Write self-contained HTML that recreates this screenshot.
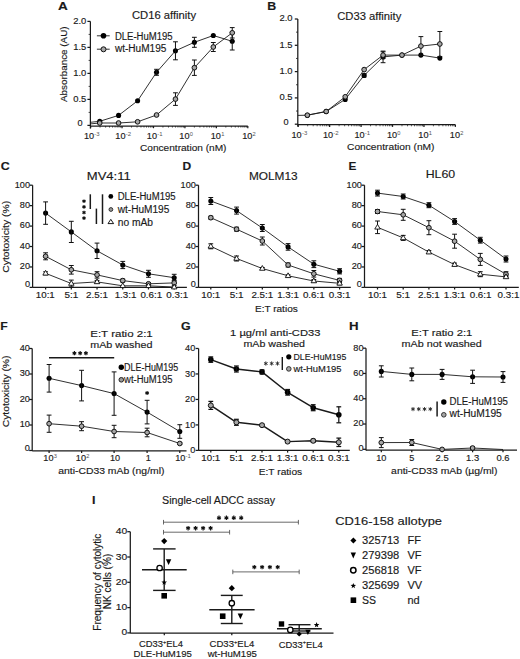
<!DOCTYPE html>
<html><head><meta charset="utf-8"><style>
html,body{margin:0;padding:0;background:#fff;}
svg{display:block;font-family:"Liberation Sans",sans-serif;}
text{stroke:#1a1a1a;stroke-width:0.15px;paint-order:stroke;}
</style></head><body>
<svg width="520" height="659" viewBox="0 0 520 659">
<rect width="520" height="659" fill="#fff"/>
<text x="57.91" y="9.60" font-size="11.80" font-weight="bold" text-anchor="start" textLength="9.78" lengthAdjust="spacingAndGlyphs" fill="#1a1a1a">A</text>
<text x="132.00" y="18.70" font-size="10.00" text-anchor="start" textLength="64.10" lengthAdjust="spacingAndGlyphs" fill="#1a1a1a">CD16 affinity</text>
<line x1="90.40" y1="21.40" x2="90.40" y2="128.50" stroke="#1a1a1a" stroke-width="1.25" stroke-linecap="butt"/>
<line x1="87.40" y1="125.40" x2="90.40" y2="125.40" stroke="#1a1a1a" stroke-width="1.25" stroke-linecap="butt"/>
<text x="82.70" y="126.18" font-size="8.50" text-anchor="end" textLength="5.09" lengthAdjust="spacingAndGlyphs" fill="#1a1a1a">0</text>
<line x1="87.40" y1="99.40" x2="90.40" y2="99.40" stroke="#1a1a1a" stroke-width="1.25" stroke-linecap="butt"/>
<text x="86.30" y="101.78" font-size="8.50" text-anchor="end" textLength="13.09" lengthAdjust="spacingAndGlyphs" fill="#1a1a1a">0.5</text>
<line x1="87.40" y1="73.40" x2="90.40" y2="73.40" stroke="#1a1a1a" stroke-width="1.25" stroke-linecap="butt"/>
<text x="86.30" y="75.78" font-size="8.50" text-anchor="end" textLength="13.09" lengthAdjust="spacingAndGlyphs" fill="#1a1a1a">1.0</text>
<line x1="87.40" y1="47.40" x2="90.40" y2="47.40" stroke="#1a1a1a" stroke-width="1.25" stroke-linecap="butt"/>
<text x="86.30" y="49.78" font-size="8.50" text-anchor="end" textLength="13.09" lengthAdjust="spacingAndGlyphs" fill="#1a1a1a">1.5</text>
<line x1="87.40" y1="21.40" x2="90.40" y2="21.40" stroke="#1a1a1a" stroke-width="1.25" stroke-linecap="butt"/>
<text x="86.30" y="23.78" font-size="8.50" text-anchor="end" textLength="13.09" lengthAdjust="spacingAndGlyphs" fill="#1a1a1a">2.0</text>
<line x1="88.60" y1="112.40" x2="90.40" y2="112.40" stroke="#1a1a1a" stroke-width="0.8" stroke-linecap="butt"/>
<line x1="88.60" y1="86.40" x2="90.40" y2="86.40" stroke="#1a1a1a" stroke-width="0.8" stroke-linecap="butt"/>
<line x1="88.60" y1="60.40" x2="90.40" y2="60.40" stroke="#1a1a1a" stroke-width="0.8" stroke-linecap="butt"/>
<line x1="88.60" y1="34.40" x2="90.40" y2="34.40" stroke="#1a1a1a" stroke-width="0.8" stroke-linecap="butt"/>
<line x1="90.40" y1="126.00" x2="247.80" y2="126.00" stroke="#1a1a1a" stroke-width="1.25" stroke-linecap="butt"/>
<line x1="90.60" y1="126.00" x2="90.60" y2="128.20" stroke="#1a1a1a" stroke-width="1.25" stroke-linecap="butt"/>
<line x1="122.04" y1="126.00" x2="122.04" y2="128.20" stroke="#1a1a1a" stroke-width="1.25" stroke-linecap="butt"/>
<line x1="153.48" y1="126.00" x2="153.48" y2="128.20" stroke="#1a1a1a" stroke-width="1.25" stroke-linecap="butt"/>
<line x1="184.92" y1="126.00" x2="184.92" y2="128.20" stroke="#1a1a1a" stroke-width="1.25" stroke-linecap="butt"/>
<line x1="216.36" y1="126.00" x2="216.36" y2="128.20" stroke="#1a1a1a" stroke-width="1.25" stroke-linecap="butt"/>
<line x1="247.80" y1="126.00" x2="247.80" y2="128.20" stroke="#1a1a1a" stroke-width="1.25" stroke-linecap="butt"/>
<line x1="100.06" y1="126.00" x2="100.06" y2="127.60" stroke="#1a1a1a" stroke-width="0.7" stroke-linecap="butt"/>
<line x1="105.60" y1="126.00" x2="105.60" y2="127.60" stroke="#1a1a1a" stroke-width="0.7" stroke-linecap="butt"/>
<line x1="109.53" y1="126.00" x2="109.53" y2="127.60" stroke="#1a1a1a" stroke-width="0.7" stroke-linecap="butt"/>
<line x1="112.58" y1="126.00" x2="112.58" y2="127.60" stroke="#1a1a1a" stroke-width="0.7" stroke-linecap="butt"/>
<line x1="115.07" y1="126.00" x2="115.07" y2="127.60" stroke="#1a1a1a" stroke-width="0.7" stroke-linecap="butt"/>
<line x1="117.17" y1="126.00" x2="117.17" y2="127.60" stroke="#1a1a1a" stroke-width="0.7" stroke-linecap="butt"/>
<line x1="118.99" y1="126.00" x2="118.99" y2="127.60" stroke="#1a1a1a" stroke-width="0.7" stroke-linecap="butt"/>
<line x1="120.60" y1="126.00" x2="120.60" y2="127.60" stroke="#1a1a1a" stroke-width="0.7" stroke-linecap="butt"/>
<line x1="131.50" y1="126.00" x2="131.50" y2="127.60" stroke="#1a1a1a" stroke-width="0.7" stroke-linecap="butt"/>
<line x1="137.04" y1="126.00" x2="137.04" y2="127.60" stroke="#1a1a1a" stroke-width="0.7" stroke-linecap="butt"/>
<line x1="140.97" y1="126.00" x2="140.97" y2="127.60" stroke="#1a1a1a" stroke-width="0.7" stroke-linecap="butt"/>
<line x1="144.02" y1="126.00" x2="144.02" y2="127.60" stroke="#1a1a1a" stroke-width="0.7" stroke-linecap="butt"/>
<line x1="146.51" y1="126.00" x2="146.51" y2="127.60" stroke="#1a1a1a" stroke-width="0.7" stroke-linecap="butt"/>
<line x1="148.61" y1="126.00" x2="148.61" y2="127.60" stroke="#1a1a1a" stroke-width="0.7" stroke-linecap="butt"/>
<line x1="150.43" y1="126.00" x2="150.43" y2="127.60" stroke="#1a1a1a" stroke-width="0.7" stroke-linecap="butt"/>
<line x1="152.04" y1="126.00" x2="152.04" y2="127.60" stroke="#1a1a1a" stroke-width="0.7" stroke-linecap="butt"/>
<line x1="162.94" y1="126.00" x2="162.94" y2="127.60" stroke="#1a1a1a" stroke-width="0.7" stroke-linecap="butt"/>
<line x1="168.48" y1="126.00" x2="168.48" y2="127.60" stroke="#1a1a1a" stroke-width="0.7" stroke-linecap="butt"/>
<line x1="172.41" y1="126.00" x2="172.41" y2="127.60" stroke="#1a1a1a" stroke-width="0.7" stroke-linecap="butt"/>
<line x1="175.46" y1="126.00" x2="175.46" y2="127.60" stroke="#1a1a1a" stroke-width="0.7" stroke-linecap="butt"/>
<line x1="177.95" y1="126.00" x2="177.95" y2="127.60" stroke="#1a1a1a" stroke-width="0.7" stroke-linecap="butt"/>
<line x1="180.05" y1="126.00" x2="180.05" y2="127.60" stroke="#1a1a1a" stroke-width="0.7" stroke-linecap="butt"/>
<line x1="181.87" y1="126.00" x2="181.87" y2="127.60" stroke="#1a1a1a" stroke-width="0.7" stroke-linecap="butt"/>
<line x1="183.48" y1="126.00" x2="183.48" y2="127.60" stroke="#1a1a1a" stroke-width="0.7" stroke-linecap="butt"/>
<line x1="194.38" y1="126.00" x2="194.38" y2="127.60" stroke="#1a1a1a" stroke-width="0.7" stroke-linecap="butt"/>
<line x1="199.92" y1="126.00" x2="199.92" y2="127.60" stroke="#1a1a1a" stroke-width="0.7" stroke-linecap="butt"/>
<line x1="203.85" y1="126.00" x2="203.85" y2="127.60" stroke="#1a1a1a" stroke-width="0.7" stroke-linecap="butt"/>
<line x1="206.90" y1="126.00" x2="206.90" y2="127.60" stroke="#1a1a1a" stroke-width="0.7" stroke-linecap="butt"/>
<line x1="209.39" y1="126.00" x2="209.39" y2="127.60" stroke="#1a1a1a" stroke-width="0.7" stroke-linecap="butt"/>
<line x1="211.49" y1="126.00" x2="211.49" y2="127.60" stroke="#1a1a1a" stroke-width="0.7" stroke-linecap="butt"/>
<line x1="213.31" y1="126.00" x2="213.31" y2="127.60" stroke="#1a1a1a" stroke-width="0.7" stroke-linecap="butt"/>
<line x1="214.92" y1="126.00" x2="214.92" y2="127.60" stroke="#1a1a1a" stroke-width="0.7" stroke-linecap="butt"/>
<line x1="225.82" y1="126.00" x2="225.82" y2="127.60" stroke="#1a1a1a" stroke-width="0.7" stroke-linecap="butt"/>
<line x1="231.36" y1="126.00" x2="231.36" y2="127.60" stroke="#1a1a1a" stroke-width="0.7" stroke-linecap="butt"/>
<line x1="235.29" y1="126.00" x2="235.29" y2="127.60" stroke="#1a1a1a" stroke-width="0.7" stroke-linecap="butt"/>
<line x1="238.34" y1="126.00" x2="238.34" y2="127.60" stroke="#1a1a1a" stroke-width="0.7" stroke-linecap="butt"/>
<line x1="240.83" y1="126.00" x2="240.83" y2="127.60" stroke="#1a1a1a" stroke-width="0.7" stroke-linecap="butt"/>
<line x1="242.93" y1="126.00" x2="242.93" y2="127.60" stroke="#1a1a1a" stroke-width="0.7" stroke-linecap="butt"/>
<line x1="244.75" y1="126.00" x2="244.75" y2="127.60" stroke="#1a1a1a" stroke-width="0.7" stroke-linecap="butt"/>
<line x1="246.36" y1="126.00" x2="246.36" y2="127.60" stroke="#1a1a1a" stroke-width="0.7" stroke-linecap="butt"/>
<text x="83.94" y="139.30" font-size="8.50" text-anchor="start" textLength="10.18" lengthAdjust="spacingAndGlyphs" fill="#1a1a1a">10</text>
<text x="94.32" y="136.40" font-size="5.00" text-anchor="start" textLength="5.33" lengthAdjust="spacingAndGlyphs" fill="#555" style="stroke:none">-3</text>
<text x="115.38" y="139.30" font-size="8.50" text-anchor="start" textLength="10.18" lengthAdjust="spacingAndGlyphs" fill="#1a1a1a">10</text>
<text x="125.76" y="136.40" font-size="5.00" text-anchor="start" textLength="5.33" lengthAdjust="spacingAndGlyphs" fill="#555" style="stroke:none">-2</text>
<text x="146.82" y="139.30" font-size="8.50" text-anchor="start" textLength="10.18" lengthAdjust="spacingAndGlyphs" fill="#1a1a1a">10</text>
<text x="157.20" y="136.40" font-size="5.00" text-anchor="start" textLength="5.33" lengthAdjust="spacingAndGlyphs" fill="#555" style="stroke:none">-1</text>
<text x="179.34" y="139.30" font-size="8.50" text-anchor="start" textLength="10.18" lengthAdjust="spacingAndGlyphs" fill="#1a1a1a">10</text>
<text x="189.72" y="136.40" font-size="5.00" text-anchor="start" textLength="3.18" lengthAdjust="spacingAndGlyphs" fill="#555" style="stroke:none">0</text>
<text x="210.78" y="139.30" font-size="8.50" text-anchor="start" textLength="10.18" lengthAdjust="spacingAndGlyphs" fill="#1a1a1a">10</text>
<text x="221.16" y="136.40" font-size="5.00" text-anchor="start" textLength="3.18" lengthAdjust="spacingAndGlyphs" fill="#555" style="stroke:none">1</text>
<text x="242.22" y="139.30" font-size="8.50" text-anchor="start" textLength="10.18" lengthAdjust="spacingAndGlyphs" fill="#1a1a1a">10</text>
<text x="252.60" y="136.40" font-size="5.00" text-anchor="start" textLength="3.18" lengthAdjust="spacingAndGlyphs" fill="#555" style="stroke:none">2</text>
<text x="140.00" y="150.60" font-size="9.90" text-anchor="start" textLength="86.49" lengthAdjust="spacingAndGlyphs" fill="#1a1a1a">Concentration (nM)</text>
<text transform="translate(67.10,64.20) rotate(-90)" x="0" y="0" font-size="9.80" text-anchor="middle" textLength="75.50" lengthAdjust="spacingAndGlyphs" fill="#1a1a1a">Absorbance (AU)</text>
<polyline points="90.40,122.30 99.72,121.30" fill="none" stroke="#1a1a1a" stroke-width="0.9" stroke-linejoin="round"/>
<polyline points="90.40,123.90 99.72,123.00" fill="none" stroke="#1a1a1a" stroke-width="0.9" stroke-linejoin="round"/>
<polyline points="99.72,121.30 118.58,115.40 137.60,100.80 156.53,72.30 175.46,50.80 194.38,42.30 213.31,35.50 232.24,41.30" fill="none" stroke="#1a1a1a" stroke-width="0.9" stroke-linejoin="round"/>
<circle cx="99.72" cy="121.30" r="2.55" fill="#000"/>
<circle cx="118.58" cy="115.40" r="2.55" fill="#000"/>
<circle cx="137.60" cy="100.80" r="2.55" fill="#000"/>
<circle cx="156.53" cy="72.30" r="2.55" fill="#000"/>
<circle cx="175.46" cy="50.80" r="2.55" fill="#000"/>
<circle cx="194.38" cy="42.30" r="2.55" fill="#000"/>
<circle cx="213.31" cy="35.50" r="2.55" fill="#000"/>
<circle cx="232.24" cy="41.30" r="2.55" fill="#000"/>
<line x1="156.53" y1="69.30" x2="156.53" y2="75.30" stroke="#111" stroke-width="1.0" stroke-linecap="butt"/>
<line x1="154.13" y1="69.30" x2="158.93" y2="69.30" stroke="#111" stroke-width="1.0" stroke-linecap="butt"/>
<line x1="154.13" y1="75.30" x2="158.93" y2="75.30" stroke="#111" stroke-width="1.0" stroke-linecap="butt"/>
<line x1="175.46" y1="41.80" x2="175.46" y2="59.80" stroke="#111" stroke-width="1.0" stroke-linecap="butt"/>
<line x1="173.06" y1="41.80" x2="177.86" y2="41.80" stroke="#111" stroke-width="1.0" stroke-linecap="butt"/>
<line x1="173.06" y1="59.80" x2="177.86" y2="59.80" stroke="#111" stroke-width="1.0" stroke-linecap="butt"/>
<line x1="194.38" y1="37.30" x2="194.38" y2="47.30" stroke="#111" stroke-width="1.0" stroke-linecap="butt"/>
<line x1="191.98" y1="37.30" x2="196.78" y2="37.30" stroke="#111" stroke-width="1.0" stroke-linecap="butt"/>
<line x1="191.98" y1="47.30" x2="196.78" y2="47.30" stroke="#111" stroke-width="1.0" stroke-linecap="butt"/>
<line x1="232.24" y1="32.60" x2="232.24" y2="50.00" stroke="#111" stroke-width="1.0" stroke-linecap="butt"/>
<line x1="229.84" y1="32.60" x2="234.64" y2="32.60" stroke="#111" stroke-width="1.0" stroke-linecap="butt"/>
<line x1="229.84" y1="50.00" x2="234.64" y2="50.00" stroke="#111" stroke-width="1.0" stroke-linecap="butt"/>
<polyline points="99.72,123.00 118.58,123.00 137.60,121.80 156.53,115.00 175.46,99.10 194.38,67.70 213.31,47.00 232.24,32.80" fill="none" stroke="#1a1a1a" stroke-width="0.9" stroke-linejoin="round"/>
<line x1="175.46" y1="92.80" x2="175.46" y2="105.40" stroke="#111" stroke-width="1.0" stroke-linecap="butt"/>
<line x1="173.06" y1="92.80" x2="177.86" y2="92.80" stroke="#111" stroke-width="1.0" stroke-linecap="butt"/>
<line x1="173.06" y1="105.40" x2="177.86" y2="105.40" stroke="#111" stroke-width="1.0" stroke-linecap="butt"/>
<line x1="194.38" y1="60.00" x2="194.38" y2="75.40" stroke="#111" stroke-width="1.0" stroke-linecap="butt"/>
<line x1="191.98" y1="60.00" x2="196.78" y2="60.00" stroke="#111" stroke-width="1.0" stroke-linecap="butt"/>
<line x1="191.98" y1="75.40" x2="196.78" y2="75.40" stroke="#111" stroke-width="1.0" stroke-linecap="butt"/>
<line x1="213.31" y1="42.50" x2="213.31" y2="51.50" stroke="#111" stroke-width="1.0" stroke-linecap="butt"/>
<line x1="210.91" y1="42.50" x2="215.71" y2="42.50" stroke="#111" stroke-width="1.0" stroke-linecap="butt"/>
<line x1="210.91" y1="51.50" x2="215.71" y2="51.50" stroke="#111" stroke-width="1.0" stroke-linecap="butt"/>
<line x1="232.24" y1="27.60" x2="232.24" y2="38.00" stroke="#111" stroke-width="1.0" stroke-linecap="butt"/>
<line x1="229.84" y1="27.60" x2="234.64" y2="27.60" stroke="#111" stroke-width="1.0" stroke-linecap="butt"/>
<line x1="229.84" y1="38.00" x2="234.64" y2="38.00" stroke="#111" stroke-width="1.0" stroke-linecap="butt"/>
<circle cx="99.72" cy="123.00" r="2.35" fill="#a6a6a6" stroke="#111" stroke-width="1.0"/>
<circle cx="118.58" cy="123.00" r="2.35" fill="#a6a6a6" stroke="#111" stroke-width="1.0"/>
<circle cx="137.60" cy="121.80" r="2.35" fill="#a6a6a6" stroke="#111" stroke-width="1.0"/>
<circle cx="156.53" cy="115.00" r="2.35" fill="#a6a6a6" stroke="#111" stroke-width="1.0"/>
<circle cx="175.46" cy="99.10" r="2.35" fill="#a6a6a6" stroke="#111" stroke-width="1.0"/>
<circle cx="194.38" cy="67.70" r="2.35" fill="#a6a6a6" stroke="#111" stroke-width="1.0"/>
<circle cx="213.31" cy="47.00" r="2.35" fill="#a6a6a6" stroke="#111" stroke-width="1.0"/>
<circle cx="232.24" cy="32.80" r="2.35" fill="#a6a6a6" stroke="#111" stroke-width="1.0"/>
<line x1="96.90" y1="35.80" x2="109.70" y2="35.80" stroke="#1a1a1a" stroke-width="0.9" stroke-linecap="butt"/>
<circle cx="103.50" cy="35.80" r="2.8" fill="#000"/>
<line x1="96.90" y1="49.20" x2="109.70" y2="49.20" stroke="#1a1a1a" stroke-width="0.9" stroke-linecap="butt"/>
<circle cx="103.50" cy="49.30" r="2.5" fill="#a6a6a6" stroke="#111" stroke-width="1.0"/>
<text x="114.90" y="39.70" font-size="10.00" text-anchor="start" textLength="57.80" lengthAdjust="spacingAndGlyphs" fill="#1a1a1a">DLE-HuM195</text>
<text x="114.90" y="52.20" font-size="10.00" text-anchor="start" textLength="51.50" lengthAdjust="spacingAndGlyphs" fill="#1a1a1a">wt-HuM195</text>
<text x="267.21" y="9.50" font-size="11.80" font-weight="bold" text-anchor="start" textLength="8.98" lengthAdjust="spacingAndGlyphs" fill="#1a1a1a">B</text>
<text x="337.20" y="20.20" font-size="10.00" text-anchor="start" textLength="64.10" lengthAdjust="spacingAndGlyphs" fill="#1a1a1a">CD33 affinity</text>
<line x1="297.80" y1="19.00" x2="297.80" y2="126.60" stroke="#1a1a1a" stroke-width="1.25" stroke-linecap="butt"/>
<line x1="294.80" y1="124.20" x2="297.80" y2="124.20" stroke="#1a1a1a" stroke-width="1.25" stroke-linecap="butt"/>
<text x="288.50" y="124.78" font-size="8.50" text-anchor="end" textLength="5.09" lengthAdjust="spacingAndGlyphs" fill="#1a1a1a">0</text>
<line x1="294.80" y1="97.90" x2="297.80" y2="97.90" stroke="#1a1a1a" stroke-width="1.25" stroke-linecap="butt"/>
<text x="292.50" y="100.28" font-size="8.50" text-anchor="end" textLength="13.09" lengthAdjust="spacingAndGlyphs" fill="#1a1a1a">0.5</text>
<line x1="294.80" y1="71.60" x2="297.80" y2="71.60" stroke="#1a1a1a" stroke-width="1.25" stroke-linecap="butt"/>
<text x="292.50" y="73.98" font-size="8.50" text-anchor="end" textLength="13.09" lengthAdjust="spacingAndGlyphs" fill="#1a1a1a">1.0</text>
<line x1="294.80" y1="45.30" x2="297.80" y2="45.30" stroke="#1a1a1a" stroke-width="1.25" stroke-linecap="butt"/>
<text x="292.50" y="47.68" font-size="8.50" text-anchor="end" textLength="13.09" lengthAdjust="spacingAndGlyphs" fill="#1a1a1a">1.5</text>
<line x1="294.80" y1="19.00" x2="297.80" y2="19.00" stroke="#1a1a1a" stroke-width="1.25" stroke-linecap="butt"/>
<text x="292.50" y="21.38" font-size="8.50" text-anchor="end" textLength="13.09" lengthAdjust="spacingAndGlyphs" fill="#1a1a1a">2.0</text>
<line x1="296.00" y1="111.05" x2="297.80" y2="111.05" stroke="#1a1a1a" stroke-width="0.8" stroke-linecap="butt"/>
<line x1="296.00" y1="84.75" x2="297.80" y2="84.75" stroke="#1a1a1a" stroke-width="0.8" stroke-linecap="butt"/>
<line x1="296.00" y1="58.45" x2="297.80" y2="58.45" stroke="#1a1a1a" stroke-width="0.8" stroke-linecap="butt"/>
<line x1="296.00" y1="32.15" x2="297.80" y2="32.15" stroke="#1a1a1a" stroke-width="0.8" stroke-linecap="butt"/>
<line x1="297.80" y1="124.70" x2="455.40" y2="124.70" stroke="#1a1a1a" stroke-width="1.25" stroke-linecap="butt"/>
<line x1="298.20" y1="124.70" x2="298.20" y2="126.90" stroke="#1a1a1a" stroke-width="1.25" stroke-linecap="butt"/>
<line x1="329.64" y1="124.70" x2="329.64" y2="126.90" stroke="#1a1a1a" stroke-width="1.25" stroke-linecap="butt"/>
<line x1="361.08" y1="124.70" x2="361.08" y2="126.90" stroke="#1a1a1a" stroke-width="1.25" stroke-linecap="butt"/>
<line x1="392.52" y1="124.70" x2="392.52" y2="126.90" stroke="#1a1a1a" stroke-width="1.25" stroke-linecap="butt"/>
<line x1="423.96" y1="124.70" x2="423.96" y2="126.90" stroke="#1a1a1a" stroke-width="1.25" stroke-linecap="butt"/>
<line x1="455.40" y1="124.70" x2="455.40" y2="126.90" stroke="#1a1a1a" stroke-width="1.25" stroke-linecap="butt"/>
<line x1="307.66" y1="124.70" x2="307.66" y2="126.30" stroke="#1a1a1a" stroke-width="0.7" stroke-linecap="butt"/>
<line x1="313.20" y1="124.70" x2="313.20" y2="126.30" stroke="#1a1a1a" stroke-width="0.7" stroke-linecap="butt"/>
<line x1="317.13" y1="124.70" x2="317.13" y2="126.30" stroke="#1a1a1a" stroke-width="0.7" stroke-linecap="butt"/>
<line x1="320.18" y1="124.70" x2="320.18" y2="126.30" stroke="#1a1a1a" stroke-width="0.7" stroke-linecap="butt"/>
<line x1="322.67" y1="124.70" x2="322.67" y2="126.30" stroke="#1a1a1a" stroke-width="0.7" stroke-linecap="butt"/>
<line x1="324.77" y1="124.70" x2="324.77" y2="126.30" stroke="#1a1a1a" stroke-width="0.7" stroke-linecap="butt"/>
<line x1="326.59" y1="124.70" x2="326.59" y2="126.30" stroke="#1a1a1a" stroke-width="0.7" stroke-linecap="butt"/>
<line x1="328.20" y1="124.70" x2="328.20" y2="126.30" stroke="#1a1a1a" stroke-width="0.7" stroke-linecap="butt"/>
<line x1="339.10" y1="124.70" x2="339.10" y2="126.30" stroke="#1a1a1a" stroke-width="0.7" stroke-linecap="butt"/>
<line x1="344.64" y1="124.70" x2="344.64" y2="126.30" stroke="#1a1a1a" stroke-width="0.7" stroke-linecap="butt"/>
<line x1="348.57" y1="124.70" x2="348.57" y2="126.30" stroke="#1a1a1a" stroke-width="0.7" stroke-linecap="butt"/>
<line x1="351.62" y1="124.70" x2="351.62" y2="126.30" stroke="#1a1a1a" stroke-width="0.7" stroke-linecap="butt"/>
<line x1="354.11" y1="124.70" x2="354.11" y2="126.30" stroke="#1a1a1a" stroke-width="0.7" stroke-linecap="butt"/>
<line x1="356.21" y1="124.70" x2="356.21" y2="126.30" stroke="#1a1a1a" stroke-width="0.7" stroke-linecap="butt"/>
<line x1="358.03" y1="124.70" x2="358.03" y2="126.30" stroke="#1a1a1a" stroke-width="0.7" stroke-linecap="butt"/>
<line x1="359.64" y1="124.70" x2="359.64" y2="126.30" stroke="#1a1a1a" stroke-width="0.7" stroke-linecap="butt"/>
<line x1="370.54" y1="124.70" x2="370.54" y2="126.30" stroke="#1a1a1a" stroke-width="0.7" stroke-linecap="butt"/>
<line x1="376.08" y1="124.70" x2="376.08" y2="126.30" stroke="#1a1a1a" stroke-width="0.7" stroke-linecap="butt"/>
<line x1="380.01" y1="124.70" x2="380.01" y2="126.30" stroke="#1a1a1a" stroke-width="0.7" stroke-linecap="butt"/>
<line x1="383.06" y1="124.70" x2="383.06" y2="126.30" stroke="#1a1a1a" stroke-width="0.7" stroke-linecap="butt"/>
<line x1="385.55" y1="124.70" x2="385.55" y2="126.30" stroke="#1a1a1a" stroke-width="0.7" stroke-linecap="butt"/>
<line x1="387.65" y1="124.70" x2="387.65" y2="126.30" stroke="#1a1a1a" stroke-width="0.7" stroke-linecap="butt"/>
<line x1="389.47" y1="124.70" x2="389.47" y2="126.30" stroke="#1a1a1a" stroke-width="0.7" stroke-linecap="butt"/>
<line x1="391.08" y1="124.70" x2="391.08" y2="126.30" stroke="#1a1a1a" stroke-width="0.7" stroke-linecap="butt"/>
<line x1="401.98" y1="124.70" x2="401.98" y2="126.30" stroke="#1a1a1a" stroke-width="0.7" stroke-linecap="butt"/>
<line x1="407.52" y1="124.70" x2="407.52" y2="126.30" stroke="#1a1a1a" stroke-width="0.7" stroke-linecap="butt"/>
<line x1="411.45" y1="124.70" x2="411.45" y2="126.30" stroke="#1a1a1a" stroke-width="0.7" stroke-linecap="butt"/>
<line x1="414.50" y1="124.70" x2="414.50" y2="126.30" stroke="#1a1a1a" stroke-width="0.7" stroke-linecap="butt"/>
<line x1="416.99" y1="124.70" x2="416.99" y2="126.30" stroke="#1a1a1a" stroke-width="0.7" stroke-linecap="butt"/>
<line x1="419.09" y1="124.70" x2="419.09" y2="126.30" stroke="#1a1a1a" stroke-width="0.7" stroke-linecap="butt"/>
<line x1="420.91" y1="124.70" x2="420.91" y2="126.30" stroke="#1a1a1a" stroke-width="0.7" stroke-linecap="butt"/>
<line x1="422.52" y1="124.70" x2="422.52" y2="126.30" stroke="#1a1a1a" stroke-width="0.7" stroke-linecap="butt"/>
<line x1="433.42" y1="124.70" x2="433.42" y2="126.30" stroke="#1a1a1a" stroke-width="0.7" stroke-linecap="butt"/>
<line x1="438.96" y1="124.70" x2="438.96" y2="126.30" stroke="#1a1a1a" stroke-width="0.7" stroke-linecap="butt"/>
<line x1="442.89" y1="124.70" x2="442.89" y2="126.30" stroke="#1a1a1a" stroke-width="0.7" stroke-linecap="butt"/>
<line x1="445.94" y1="124.70" x2="445.94" y2="126.30" stroke="#1a1a1a" stroke-width="0.7" stroke-linecap="butt"/>
<line x1="448.43" y1="124.70" x2="448.43" y2="126.30" stroke="#1a1a1a" stroke-width="0.7" stroke-linecap="butt"/>
<line x1="450.53" y1="124.70" x2="450.53" y2="126.30" stroke="#1a1a1a" stroke-width="0.7" stroke-linecap="butt"/>
<line x1="452.35" y1="124.70" x2="452.35" y2="126.30" stroke="#1a1a1a" stroke-width="0.7" stroke-linecap="butt"/>
<line x1="453.96" y1="124.70" x2="453.96" y2="126.30" stroke="#1a1a1a" stroke-width="0.7" stroke-linecap="butt"/>
<text x="291.54" y="138.10" font-size="8.50" text-anchor="start" textLength="10.18" lengthAdjust="spacingAndGlyphs" fill="#1a1a1a">10</text>
<text x="301.92" y="135.20" font-size="5.00" text-anchor="start" textLength="5.33" lengthAdjust="spacingAndGlyphs" fill="#555" style="stroke:none">-3</text>
<text x="322.98" y="138.10" font-size="8.50" text-anchor="start" textLength="10.18" lengthAdjust="spacingAndGlyphs" fill="#1a1a1a">10</text>
<text x="333.36" y="135.20" font-size="5.00" text-anchor="start" textLength="5.33" lengthAdjust="spacingAndGlyphs" fill="#555" style="stroke:none">-2</text>
<text x="354.42" y="138.10" font-size="8.50" text-anchor="start" textLength="10.18" lengthAdjust="spacingAndGlyphs" fill="#1a1a1a">10</text>
<text x="364.80" y="135.20" font-size="5.00" text-anchor="start" textLength="5.33" lengthAdjust="spacingAndGlyphs" fill="#555" style="stroke:none">-1</text>
<text x="386.94" y="138.10" font-size="8.50" text-anchor="start" textLength="10.18" lengthAdjust="spacingAndGlyphs" fill="#1a1a1a">10</text>
<text x="397.32" y="135.20" font-size="5.00" text-anchor="start" textLength="3.18" lengthAdjust="spacingAndGlyphs" fill="#555" style="stroke:none">0</text>
<text x="418.38" y="138.10" font-size="8.50" text-anchor="start" textLength="10.18" lengthAdjust="spacingAndGlyphs" fill="#1a1a1a">10</text>
<text x="428.76" y="135.20" font-size="5.00" text-anchor="start" textLength="3.18" lengthAdjust="spacingAndGlyphs" fill="#555" style="stroke:none">1</text>
<text x="449.82" y="138.10" font-size="8.50" text-anchor="start" textLength="10.18" lengthAdjust="spacingAndGlyphs" fill="#1a1a1a">10</text>
<text x="460.20" y="135.20" font-size="5.00" text-anchor="start" textLength="3.18" lengthAdjust="spacingAndGlyphs" fill="#555" style="stroke:none">2</text>
<text x="347.00" y="149.90" font-size="9.90" text-anchor="start" textLength="87.49" lengthAdjust="spacingAndGlyphs" fill="#1a1a1a">Concentration (nM)</text>
<polyline points="297.80,115.40 307.32,115.20" fill="none" stroke="#1a1a1a" stroke-width="0.9" stroke-linejoin="round"/>
<polyline points="307.32,115.20 326.18,111.50 345.20,99.40 364.13,75.40 383.06,56.90 401.98,55.10 420.91,55.10 439.84,58.10" fill="none" stroke="#1a1a1a" stroke-width="0.9" stroke-linejoin="round"/>
<circle cx="307.32" cy="115.20" r="2.55" fill="#000"/>
<circle cx="326.18" cy="111.50" r="2.55" fill="#000"/>
<circle cx="345.20" cy="99.40" r="2.55" fill="#000"/>
<circle cx="364.13" cy="75.40" r="2.55" fill="#000"/>
<circle cx="383.06" cy="56.90" r="2.55" fill="#000"/>
<circle cx="401.98" cy="55.10" r="2.55" fill="#000"/>
<circle cx="420.91" cy="55.10" r="2.55" fill="#000"/>
<circle cx="439.84" cy="58.10" r="2.55" fill="#000"/>
<line x1="364.13" y1="73.90" x2="364.13" y2="76.90" stroke="#111" stroke-width="1.0" stroke-linecap="butt"/>
<line x1="361.73" y1="73.90" x2="366.53" y2="73.90" stroke="#111" stroke-width="1.0" stroke-linecap="butt"/>
<line x1="361.73" y1="76.90" x2="366.53" y2="76.90" stroke="#111" stroke-width="1.0" stroke-linecap="butt"/>
<line x1="383.06" y1="51.10" x2="383.06" y2="62.70" stroke="#111" stroke-width="1.0" stroke-linecap="butt"/>
<line x1="380.66" y1="51.10" x2="385.46" y2="51.10" stroke="#111" stroke-width="1.0" stroke-linecap="butt"/>
<line x1="380.66" y1="62.70" x2="385.46" y2="62.70" stroke="#111" stroke-width="1.0" stroke-linecap="butt"/>
<polyline points="307.32,115.20 326.18,111.50 345.20,96.80 364.13,69.60 383.06,55.10 401.98,55.10 420.91,46.10 439.84,44.00" fill="none" stroke="#1a1a1a" stroke-width="0.9" stroke-linejoin="round"/>
<line x1="383.06" y1="51.80" x2="383.06" y2="58.40" stroke="#111" stroke-width="1.0" stroke-linecap="butt"/>
<line x1="380.66" y1="51.80" x2="385.46" y2="51.80" stroke="#111" stroke-width="1.0" stroke-linecap="butt"/>
<line x1="380.66" y1="58.40" x2="385.46" y2="58.40" stroke="#111" stroke-width="1.0" stroke-linecap="butt"/>
<line x1="420.91" y1="36.60" x2="420.91" y2="55.60" stroke="#111" stroke-width="1.0" stroke-linecap="butt"/>
<line x1="418.51" y1="36.60" x2="423.31" y2="36.60" stroke="#111" stroke-width="1.0" stroke-linecap="butt"/>
<line x1="418.51" y1="55.60" x2="423.31" y2="55.60" stroke="#111" stroke-width="1.0" stroke-linecap="butt"/>
<line x1="439.84" y1="31.50" x2="439.84" y2="56.50" stroke="#111" stroke-width="1.0" stroke-linecap="butt"/>
<line x1="437.44" y1="31.50" x2="442.24" y2="31.50" stroke="#111" stroke-width="1.0" stroke-linecap="butt"/>
<line x1="437.44" y1="56.50" x2="442.24" y2="56.50" stroke="#111" stroke-width="1.0" stroke-linecap="butt"/>
<circle cx="307.32" cy="115.20" r="2.35" fill="#a6a6a6" stroke="#111" stroke-width="1.0"/>
<circle cx="326.18" cy="111.50" r="2.35" fill="#a6a6a6" stroke="#111" stroke-width="1.0"/>
<circle cx="345.20" cy="96.80" r="2.35" fill="#a6a6a6" stroke="#111" stroke-width="1.0"/>
<circle cx="364.13" cy="69.60" r="2.35" fill="#a6a6a6" stroke="#111" stroke-width="1.0"/>
<circle cx="383.06" cy="55.10" r="2.35" fill="#a6a6a6" stroke="#111" stroke-width="1.0"/>
<circle cx="401.98" cy="55.10" r="2.35" fill="#a6a6a6" stroke="#111" stroke-width="1.0"/>
<circle cx="420.91" cy="46.10" r="2.35" fill="#a6a6a6" stroke="#111" stroke-width="1.0"/>
<circle cx="439.84" cy="44.00" r="2.35" fill="#a6a6a6" stroke="#111" stroke-width="1.0"/>
<text x="0.81" y="170.20" font-size="11.80" font-weight="bold" text-anchor="start" textLength="8.98" lengthAdjust="spacingAndGlyphs" fill="#1a1a1a">C</text>
<text x="86.76" y="179.90" font-size="10.80" text-anchor="start" textLength="44.08" lengthAdjust="spacingAndGlyphs" fill="#1a1a1a">MV4:11</text>
<line x1="32.60" y1="185.20" x2="32.60" y2="287.60" stroke="#1a1a1a" stroke-width="1.25" stroke-linecap="butt"/>
<line x1="29.60" y1="287.40" x2="32.60" y2="287.40" stroke="#1a1a1a" stroke-width="1.25" stroke-linecap="butt"/>
<text x="30.00" y="287.18" font-size="8.50" text-anchor="end" textLength="5.09" lengthAdjust="spacingAndGlyphs" fill="#1a1a1a">0</text>
<line x1="29.60" y1="266.96" x2="32.60" y2="266.96" stroke="#1a1a1a" stroke-width="1.25" stroke-linecap="butt"/>
<text x="30.00" y="269.34" font-size="8.50" text-anchor="end" textLength="10.18" lengthAdjust="spacingAndGlyphs" fill="#1a1a1a">20</text>
<line x1="29.60" y1="246.52" x2="32.60" y2="246.52" stroke="#1a1a1a" stroke-width="1.25" stroke-linecap="butt"/>
<text x="30.00" y="248.90" font-size="8.50" text-anchor="end" textLength="10.18" lengthAdjust="spacingAndGlyphs" fill="#1a1a1a">40</text>
<line x1="29.60" y1="226.08" x2="32.60" y2="226.08" stroke="#1a1a1a" stroke-width="1.25" stroke-linecap="butt"/>
<text x="30.00" y="228.46" font-size="8.50" text-anchor="end" textLength="10.18" lengthAdjust="spacingAndGlyphs" fill="#1a1a1a">60</text>
<line x1="29.60" y1="205.64" x2="32.60" y2="205.64" stroke="#1a1a1a" stroke-width="1.25" stroke-linecap="butt"/>
<text x="30.00" y="208.02" font-size="8.50" text-anchor="end" textLength="10.18" lengthAdjust="spacingAndGlyphs" fill="#1a1a1a">80</text>
<line x1="29.60" y1="185.20" x2="32.60" y2="185.20" stroke="#1a1a1a" stroke-width="1.25" stroke-linecap="butt"/>
<text x="30.00" y="187.58" font-size="8.50" text-anchor="end" textLength="15.26" lengthAdjust="spacingAndGlyphs" fill="#1a1a1a">100</text>
<line x1="32.60" y1="287.30" x2="186.90" y2="287.30" stroke="#1a1a1a" stroke-width="1.25" stroke-linecap="butt"/>
<line x1="45.60" y1="287.30" x2="45.60" y2="289.50" stroke="#1a1a1a" stroke-width="1.25" stroke-linecap="butt"/>
<line x1="71.32" y1="287.30" x2="71.32" y2="289.50" stroke="#1a1a1a" stroke-width="1.25" stroke-linecap="butt"/>
<line x1="97.04" y1="287.30" x2="97.04" y2="289.50" stroke="#1a1a1a" stroke-width="1.25" stroke-linecap="butt"/>
<line x1="122.76" y1="287.30" x2="122.76" y2="289.50" stroke="#1a1a1a" stroke-width="1.25" stroke-linecap="butt"/>
<line x1="148.48" y1="287.30" x2="148.48" y2="289.50" stroke="#1a1a1a" stroke-width="1.25" stroke-linecap="butt"/>
<line x1="174.20" y1="287.30" x2="174.20" y2="289.50" stroke="#1a1a1a" stroke-width="1.25" stroke-linecap="butt"/>
<text x="45.30" y="298.30" font-size="8.50" text-anchor="middle" textLength="18.90" lengthAdjust="spacingAndGlyphs" fill="#1a1a1a">10:1</text>
<text x="71.32" y="298.30" font-size="8.50" text-anchor="middle" textLength="13.81" lengthAdjust="spacingAndGlyphs" fill="#1a1a1a">5:1</text>
<text x="97.04" y="298.30" font-size="8.50" text-anchor="middle" textLength="21.81" lengthAdjust="spacingAndGlyphs" fill="#1a1a1a">2.5:1</text>
<text x="125.56" y="298.30" font-size="8.50" text-anchor="middle" textLength="21.81" lengthAdjust="spacingAndGlyphs" fill="#1a1a1a">1.3:1</text>
<text x="151.28" y="298.30" font-size="8.50" text-anchor="middle" textLength="21.81" lengthAdjust="spacingAndGlyphs" fill="#1a1a1a">0.6:1</text>
<text x="177.20" y="298.30" font-size="8.50" text-anchor="middle" textLength="21.81" lengthAdjust="spacingAndGlyphs" fill="#1a1a1a">0.3:1</text>
<text transform="translate(9.40,236.80) rotate(-90)" x="0" y="0" font-size="9.80" text-anchor="middle" textLength="71.80" lengthAdjust="spacingAndGlyphs" fill="#1a1a1a">Cytotoxicity (%)</text>
<polyline points="45.60,213.10 71.32,231.90 97.04,250.80 122.76,265.00 148.48,273.80 174.20,277.70" fill="none" stroke="#1a1a1a" stroke-width="0.9" stroke-linejoin="round"/>
<circle cx="45.60" cy="213.10" r="2.55" fill="#000"/>
<circle cx="71.32" cy="231.90" r="2.55" fill="#000"/>
<circle cx="97.04" cy="250.80" r="2.55" fill="#000"/>
<circle cx="122.76" cy="265.00" r="2.55" fill="#000"/>
<circle cx="148.48" cy="273.80" r="2.55" fill="#000"/>
<circle cx="174.20" cy="277.70" r="2.55" fill="#000"/>
<line x1="45.60" y1="201.90" x2="45.60" y2="224.30" stroke="#111" stroke-width="1.0" stroke-linecap="butt"/>
<line x1="43.20" y1="201.90" x2="48.00" y2="201.90" stroke="#111" stroke-width="1.0" stroke-linecap="butt"/>
<line x1="43.20" y1="224.30" x2="48.00" y2="224.30" stroke="#111" stroke-width="1.0" stroke-linecap="butt"/>
<line x1="71.32" y1="221.30" x2="71.32" y2="242.50" stroke="#111" stroke-width="1.0" stroke-linecap="butt"/>
<line x1="68.92" y1="221.30" x2="73.72" y2="221.30" stroke="#111" stroke-width="1.0" stroke-linecap="butt"/>
<line x1="68.92" y1="242.50" x2="73.72" y2="242.50" stroke="#111" stroke-width="1.0" stroke-linecap="butt"/>
<line x1="97.04" y1="243.10" x2="97.04" y2="258.50" stroke="#111" stroke-width="1.0" stroke-linecap="butt"/>
<line x1="94.64" y1="243.10" x2="99.44" y2="243.10" stroke="#111" stroke-width="1.0" stroke-linecap="butt"/>
<line x1="94.64" y1="258.50" x2="99.44" y2="258.50" stroke="#111" stroke-width="1.0" stroke-linecap="butt"/>
<line x1="122.76" y1="261.40" x2="122.76" y2="268.60" stroke="#111" stroke-width="1.0" stroke-linecap="butt"/>
<line x1="120.36" y1="261.40" x2="125.16" y2="261.40" stroke="#111" stroke-width="1.0" stroke-linecap="butt"/>
<line x1="120.36" y1="268.60" x2="125.16" y2="268.60" stroke="#111" stroke-width="1.0" stroke-linecap="butt"/>
<line x1="148.48" y1="270.30" x2="148.48" y2="277.30" stroke="#111" stroke-width="1.0" stroke-linecap="butt"/>
<line x1="146.08" y1="270.30" x2="150.88" y2="270.30" stroke="#111" stroke-width="1.0" stroke-linecap="butt"/>
<line x1="146.08" y1="277.30" x2="150.88" y2="277.30" stroke="#111" stroke-width="1.0" stroke-linecap="butt"/>
<line x1="174.20" y1="274.30" x2="174.20" y2="281.10" stroke="#111" stroke-width="1.0" stroke-linecap="butt"/>
<line x1="171.80" y1="274.30" x2="176.60" y2="274.30" stroke="#111" stroke-width="1.0" stroke-linecap="butt"/>
<line x1="171.80" y1="281.10" x2="176.60" y2="281.10" stroke="#111" stroke-width="1.0" stroke-linecap="butt"/>
<polyline points="45.60,256.30 71.32,269.80 97.04,274.90 122.76,280.60 148.48,283.80 174.20,282.90" fill="none" stroke="#1a1a1a" stroke-width="0.9" stroke-linejoin="round"/>
<line x1="45.60" y1="252.80" x2="45.60" y2="259.80" stroke="#111" stroke-width="1.0" stroke-linecap="butt"/>
<line x1="43.20" y1="252.80" x2="48.00" y2="252.80" stroke="#111" stroke-width="1.0" stroke-linecap="butt"/>
<line x1="43.20" y1="259.80" x2="48.00" y2="259.80" stroke="#111" stroke-width="1.0" stroke-linecap="butt"/>
<line x1="71.32" y1="265.50" x2="71.32" y2="274.10" stroke="#111" stroke-width="1.0" stroke-linecap="butt"/>
<line x1="68.92" y1="265.50" x2="73.72" y2="265.50" stroke="#111" stroke-width="1.0" stroke-linecap="butt"/>
<line x1="68.92" y1="274.10" x2="73.72" y2="274.10" stroke="#111" stroke-width="1.0" stroke-linecap="butt"/>
<line x1="97.04" y1="271.70" x2="97.04" y2="278.10" stroke="#111" stroke-width="1.0" stroke-linecap="butt"/>
<line x1="94.64" y1="271.70" x2="99.44" y2="271.70" stroke="#111" stroke-width="1.0" stroke-linecap="butt"/>
<line x1="94.64" y1="278.10" x2="99.44" y2="278.10" stroke="#111" stroke-width="1.0" stroke-linecap="butt"/>
<line x1="122.76" y1="279.10" x2="122.76" y2="282.10" stroke="#111" stroke-width="1.0" stroke-linecap="butt"/>
<line x1="120.36" y1="279.10" x2="125.16" y2="279.10" stroke="#111" stroke-width="1.0" stroke-linecap="butt"/>
<line x1="120.36" y1="282.10" x2="125.16" y2="282.10" stroke="#111" stroke-width="1.0" stroke-linecap="butt"/>
<line x1="148.48" y1="282.80" x2="148.48" y2="284.80" stroke="#111" stroke-width="1.0" stroke-linecap="butt"/>
<line x1="146.08" y1="282.80" x2="150.88" y2="282.80" stroke="#111" stroke-width="1.0" stroke-linecap="butt"/>
<line x1="146.08" y1="284.80" x2="150.88" y2="284.80" stroke="#111" stroke-width="1.0" stroke-linecap="butt"/>
<line x1="174.20" y1="280.40" x2="174.20" y2="285.40" stroke="#111" stroke-width="1.0" stroke-linecap="butt"/>
<line x1="171.80" y1="280.40" x2="176.60" y2="280.40" stroke="#111" stroke-width="1.0" stroke-linecap="butt"/>
<line x1="171.80" y1="285.40" x2="176.60" y2="285.40" stroke="#111" stroke-width="1.0" stroke-linecap="butt"/>
<circle cx="45.60" cy="256.30" r="2.35" fill="#a6a6a6" stroke="#111" stroke-width="1.0"/>
<circle cx="71.32" cy="269.80" r="2.35" fill="#a6a6a6" stroke="#111" stroke-width="1.0"/>
<circle cx="97.04" cy="274.90" r="2.35" fill="#a6a6a6" stroke="#111" stroke-width="1.0"/>
<circle cx="122.76" cy="280.60" r="2.35" fill="#a6a6a6" stroke="#111" stroke-width="1.0"/>
<circle cx="148.48" cy="283.80" r="2.35" fill="#a6a6a6" stroke="#111" stroke-width="1.0"/>
<circle cx="174.20" cy="282.90" r="2.35" fill="#a6a6a6" stroke="#111" stroke-width="1.0"/>
<polyline points="45.60,273.30 71.32,283.50 97.04,281.90 122.76,285.80 148.48,285.80 174.20,287.10" fill="none" stroke="#1a1a1a" stroke-width="0.9" stroke-linejoin="round"/>
<line x1="45.60" y1="271.80" x2="45.60" y2="274.80" stroke="#111" stroke-width="1.0" stroke-linecap="butt"/>
<line x1="43.20" y1="271.80" x2="48.00" y2="271.80" stroke="#111" stroke-width="1.0" stroke-linecap="butt"/>
<line x1="43.20" y1="274.80" x2="48.00" y2="274.80" stroke="#111" stroke-width="1.0" stroke-linecap="butt"/>
<line x1="71.32" y1="280.10" x2="71.32" y2="286.90" stroke="#111" stroke-width="1.0" stroke-linecap="butt"/>
<line x1="68.92" y1="280.10" x2="73.72" y2="280.10" stroke="#111" stroke-width="1.0" stroke-linecap="butt"/>
<line x1="68.92" y1="286.90" x2="73.72" y2="286.90" stroke="#111" stroke-width="1.0" stroke-linecap="butt"/>
<line x1="97.04" y1="280.40" x2="97.04" y2="283.40" stroke="#111" stroke-width="1.0" stroke-linecap="butt"/>
<line x1="94.64" y1="280.40" x2="99.44" y2="280.40" stroke="#111" stroke-width="1.0" stroke-linecap="butt"/>
<line x1="94.64" y1="283.40" x2="99.44" y2="283.40" stroke="#111" stroke-width="1.0" stroke-linecap="butt"/>
<polygon points="42.85,275.08 48.35,275.08 45.60,270.33" fill="#fff" stroke="#000" stroke-width="0.85" stroke-linejoin="miter"/>
<polygon points="68.57,285.28 74.07,285.28 71.32,280.53" fill="#fff" stroke="#000" stroke-width="0.85" stroke-linejoin="miter"/>
<polygon points="94.29,283.68 99.79,283.68 97.04,278.93" fill="#fff" stroke="#000" stroke-width="0.85" stroke-linejoin="miter"/>
<polygon points="120.01,287.58 125.51,287.58 122.76,282.83" fill="#fff" stroke="#000" stroke-width="0.85" stroke-linejoin="miter"/>
<polygon points="145.73,287.58 151.23,287.58 148.48,282.83" fill="#fff" stroke="#000" stroke-width="0.85" stroke-linejoin="miter"/>
<polygon points="171.45,288.88 176.95,288.88 174.20,284.13" fill="#fff" stroke="#000" stroke-width="0.85" stroke-linejoin="miter"/>
<circle cx="110.80" cy="196.40" r="2.4" fill="#000"/>
<circle cx="110.90" cy="209.50" r="1.9" fill="#999" stroke="#222" stroke-width="0.9"/>
<polygon points="108.00,223.60 113.60,223.60 110.80,219.34" fill="#fff" stroke="#000" stroke-width="0.9" stroke-linejoin="miter"/>
<text x="117.70" y="199.80" font-size="10.00" text-anchor="start" textLength="57.90" lengthAdjust="spacingAndGlyphs" fill="#1a1a1a">DLE-HuM195</text>
<text x="117.70" y="213.40" font-size="10.00" text-anchor="start" textLength="51.60" lengthAdjust="spacingAndGlyphs" fill="#1a1a1a">wt-HuM195</text>
<text x="117.70" y="226.00" font-size="10.00" text-anchor="start" textLength="35.30" lengthAdjust="spacingAndGlyphs" fill="#1a1a1a">no mAb</text>
<line x1="84.00" y1="203.00" x2="84.00" y2="199.40" stroke="#111" stroke-width="1.15" stroke-linecap="butt"/>
<line x1="82.44" y1="202.10" x2="85.56" y2="200.30" stroke="#111" stroke-width="1.15" stroke-linecap="butt"/>
<line x1="82.44" y1="200.30" x2="85.56" y2="202.10" stroke="#111" stroke-width="1.15" stroke-linecap="butt"/>
<circle cx="84.00" cy="201.20" r="0.81" fill="#111"/>
<line x1="84.00" y1="208.65" x2="84.00" y2="205.05" stroke="#111" stroke-width="1.15" stroke-linecap="butt"/>
<line x1="82.44" y1="207.75" x2="85.56" y2="205.95" stroke="#111" stroke-width="1.15" stroke-linecap="butt"/>
<line x1="82.44" y1="205.95" x2="85.56" y2="207.75" stroke="#111" stroke-width="1.15" stroke-linecap="butt"/>
<circle cx="84.00" cy="206.85" r="0.81" fill="#111"/>
<line x1="84.00" y1="214.30" x2="84.00" y2="210.70" stroke="#111" stroke-width="1.15" stroke-linecap="butt"/>
<line x1="82.44" y1="213.40" x2="85.56" y2="211.60" stroke="#111" stroke-width="1.15" stroke-linecap="butt"/>
<line x1="82.44" y1="211.60" x2="85.56" y2="213.40" stroke="#111" stroke-width="1.15" stroke-linecap="butt"/>
<circle cx="84.00" cy="212.50" r="0.81" fill="#111"/>
<line x1="84.00" y1="219.95" x2="84.00" y2="216.35" stroke="#111" stroke-width="1.15" stroke-linecap="butt"/>
<line x1="82.44" y1="219.05" x2="85.56" y2="217.25" stroke="#111" stroke-width="1.15" stroke-linecap="butt"/>
<line x1="82.44" y1="217.25" x2="85.56" y2="219.05" stroke="#111" stroke-width="1.15" stroke-linecap="butt"/>
<circle cx="84.00" cy="218.15" r="0.81" fill="#111"/>
<line x1="90.30" y1="194.30" x2="90.30" y2="209.00" stroke="#1a1a1a" stroke-width="1.5" stroke-linecap="butt"/>
<line x1="96.40" y1="208.60" x2="96.40" y2="224.00" stroke="#1a1a1a" stroke-width="1.5" stroke-linecap="butt"/>
<line x1="102.50" y1="194.30" x2="102.50" y2="224.00" stroke="#1a1a1a" stroke-width="1.5" stroke-linecap="butt"/>
<text x="182.51" y="170.00" font-size="11.80" font-weight="bold" text-anchor="start" textLength="8.68" lengthAdjust="spacingAndGlyphs" fill="#1a1a1a">D</text>
<text x="248.95" y="180.10" font-size="11.00" text-anchor="start" textLength="48.70" lengthAdjust="spacingAndGlyphs" fill="#1a1a1a">MOLM13</text>
<line x1="198.50" y1="185.20" x2="198.50" y2="287.60" stroke="#1a1a1a" stroke-width="1.25" stroke-linecap="butt"/>
<line x1="195.50" y1="287.40" x2="198.50" y2="287.40" stroke="#1a1a1a" stroke-width="1.25" stroke-linecap="butt"/>
<text x="195.90" y="287.18" font-size="8.50" text-anchor="end" textLength="5.09" lengthAdjust="spacingAndGlyphs" fill="#1a1a1a">0</text>
<line x1="195.50" y1="266.96" x2="198.50" y2="266.96" stroke="#1a1a1a" stroke-width="1.25" stroke-linecap="butt"/>
<text x="195.90" y="269.34" font-size="8.50" text-anchor="end" textLength="10.18" lengthAdjust="spacingAndGlyphs" fill="#1a1a1a">20</text>
<line x1="195.50" y1="246.52" x2="198.50" y2="246.52" stroke="#1a1a1a" stroke-width="1.25" stroke-linecap="butt"/>
<text x="195.90" y="248.90" font-size="8.50" text-anchor="end" textLength="10.18" lengthAdjust="spacingAndGlyphs" fill="#1a1a1a">40</text>
<line x1="195.50" y1="226.08" x2="198.50" y2="226.08" stroke="#1a1a1a" stroke-width="1.25" stroke-linecap="butt"/>
<text x="195.90" y="228.46" font-size="8.50" text-anchor="end" textLength="10.18" lengthAdjust="spacingAndGlyphs" fill="#1a1a1a">60</text>
<line x1="195.50" y1="205.64" x2="198.50" y2="205.64" stroke="#1a1a1a" stroke-width="1.25" stroke-linecap="butt"/>
<text x="195.90" y="208.02" font-size="8.50" text-anchor="end" textLength="10.18" lengthAdjust="spacingAndGlyphs" fill="#1a1a1a">80</text>
<line x1="195.50" y1="185.20" x2="198.50" y2="185.20" stroke="#1a1a1a" stroke-width="1.25" stroke-linecap="butt"/>
<text x="195.90" y="187.58" font-size="8.50" text-anchor="end" textLength="15.26" lengthAdjust="spacingAndGlyphs" fill="#1a1a1a">100</text>
<line x1="198.50" y1="287.30" x2="350.80" y2="287.30" stroke="#1a1a1a" stroke-width="1.25" stroke-linecap="butt"/>
<line x1="210.80" y1="287.30" x2="210.80" y2="289.50" stroke="#1a1a1a" stroke-width="1.25" stroke-linecap="butt"/>
<line x1="236.56" y1="287.30" x2="236.56" y2="289.50" stroke="#1a1a1a" stroke-width="1.25" stroke-linecap="butt"/>
<line x1="262.32" y1="287.30" x2="262.32" y2="289.50" stroke="#1a1a1a" stroke-width="1.25" stroke-linecap="butt"/>
<line x1="288.08" y1="287.30" x2="288.08" y2="289.50" stroke="#1a1a1a" stroke-width="1.25" stroke-linecap="butt"/>
<line x1="313.84" y1="287.30" x2="313.84" y2="289.50" stroke="#1a1a1a" stroke-width="1.25" stroke-linecap="butt"/>
<line x1="339.60" y1="287.30" x2="339.60" y2="289.50" stroke="#1a1a1a" stroke-width="1.25" stroke-linecap="butt"/>
<text x="210.80" y="298.30" font-size="8.50" text-anchor="middle" textLength="18.90" lengthAdjust="spacingAndGlyphs" fill="#1a1a1a">10:1</text>
<text x="236.56" y="298.30" font-size="8.50" text-anchor="middle" textLength="13.81" lengthAdjust="spacingAndGlyphs" fill="#1a1a1a">5:1</text>
<text x="262.32" y="298.30" font-size="8.50" text-anchor="middle" textLength="21.81" lengthAdjust="spacingAndGlyphs" fill="#1a1a1a">2.5:1</text>
<text x="288.08" y="298.30" font-size="8.50" text-anchor="middle" textLength="21.81" lengthAdjust="spacingAndGlyphs" fill="#1a1a1a">1.3:1</text>
<text x="313.84" y="298.30" font-size="8.50" text-anchor="middle" textLength="21.81" lengthAdjust="spacingAndGlyphs" fill="#1a1a1a">0.6:1</text>
<text x="339.60" y="298.30" font-size="8.50" text-anchor="middle" textLength="21.81" lengthAdjust="spacingAndGlyphs" fill="#1a1a1a">0.3:1</text>
<text x="254.94" y="311.70" font-size="9.30" text-anchor="start" textLength="42.83" lengthAdjust="spacingAndGlyphs" fill="#1a1a1a">E:T ratios</text>
<polyline points="210.80,201.00 236.56,210.60 262.32,228.00 288.08,246.90 313.84,264.20 339.60,271.30" fill="none" stroke="#1a1a1a" stroke-width="0.9" stroke-linejoin="round"/>
<circle cx="210.80" cy="201.00" r="2.55" fill="#000"/>
<circle cx="236.56" cy="210.60" r="2.55" fill="#000"/>
<circle cx="262.32" cy="228.00" r="2.55" fill="#000"/>
<circle cx="288.08" cy="246.90" r="2.55" fill="#000"/>
<circle cx="313.84" cy="264.20" r="2.55" fill="#000"/>
<circle cx="339.60" cy="271.30" r="2.55" fill="#000"/>
<line x1="210.80" y1="197.50" x2="210.80" y2="204.50" stroke="#111" stroke-width="1.0" stroke-linecap="butt"/>
<line x1="208.40" y1="197.50" x2="213.20" y2="197.50" stroke="#111" stroke-width="1.0" stroke-linecap="butt"/>
<line x1="208.40" y1="204.50" x2="213.20" y2="204.50" stroke="#111" stroke-width="1.0" stroke-linecap="butt"/>
<line x1="236.56" y1="207.10" x2="236.56" y2="214.10" stroke="#111" stroke-width="1.0" stroke-linecap="butt"/>
<line x1="234.16" y1="207.10" x2="238.96" y2="207.10" stroke="#111" stroke-width="1.0" stroke-linecap="butt"/>
<line x1="234.16" y1="214.10" x2="238.96" y2="214.10" stroke="#111" stroke-width="1.0" stroke-linecap="butt"/>
<line x1="262.32" y1="224.50" x2="262.32" y2="231.50" stroke="#111" stroke-width="1.0" stroke-linecap="butt"/>
<line x1="259.92" y1="224.50" x2="264.72" y2="224.50" stroke="#111" stroke-width="1.0" stroke-linecap="butt"/>
<line x1="259.92" y1="231.50" x2="264.72" y2="231.50" stroke="#111" stroke-width="1.0" stroke-linecap="butt"/>
<line x1="288.08" y1="243.60" x2="288.08" y2="250.20" stroke="#111" stroke-width="1.0" stroke-linecap="butt"/>
<line x1="285.68" y1="243.60" x2="290.48" y2="243.60" stroke="#111" stroke-width="1.0" stroke-linecap="butt"/>
<line x1="285.68" y1="250.20" x2="290.48" y2="250.20" stroke="#111" stroke-width="1.0" stroke-linecap="butt"/>
<line x1="313.84" y1="260.80" x2="313.84" y2="267.60" stroke="#111" stroke-width="1.0" stroke-linecap="butt"/>
<line x1="311.44" y1="260.80" x2="316.24" y2="260.80" stroke="#111" stroke-width="1.0" stroke-linecap="butt"/>
<line x1="311.44" y1="267.60" x2="316.24" y2="267.60" stroke="#111" stroke-width="1.0" stroke-linecap="butt"/>
<line x1="339.60" y1="268.70" x2="339.60" y2="273.90" stroke="#111" stroke-width="1.0" stroke-linecap="butt"/>
<line x1="337.20" y1="268.70" x2="342.00" y2="268.70" stroke="#111" stroke-width="1.0" stroke-linecap="butt"/>
<line x1="337.20" y1="273.90" x2="342.00" y2="273.90" stroke="#111" stroke-width="1.0" stroke-linecap="butt"/>
<polyline points="210.80,217.70 236.56,229.20 262.32,241.00 288.08,265.00 313.84,273.80 339.60,280.40" fill="none" stroke="#1a1a1a" stroke-width="0.9" stroke-linejoin="round"/>
<line x1="210.80" y1="216.20" x2="210.80" y2="219.20" stroke="#111" stroke-width="1.0" stroke-linecap="butt"/>
<line x1="208.40" y1="216.20" x2="213.20" y2="216.20" stroke="#111" stroke-width="1.0" stroke-linecap="butt"/>
<line x1="208.40" y1="219.20" x2="213.20" y2="219.20" stroke="#111" stroke-width="1.0" stroke-linecap="butt"/>
<line x1="236.56" y1="227.20" x2="236.56" y2="231.20" stroke="#111" stroke-width="1.0" stroke-linecap="butt"/>
<line x1="234.16" y1="227.20" x2="238.96" y2="227.20" stroke="#111" stroke-width="1.0" stroke-linecap="butt"/>
<line x1="234.16" y1="231.20" x2="238.96" y2="231.20" stroke="#111" stroke-width="1.0" stroke-linecap="butt"/>
<line x1="262.32" y1="237.00" x2="262.32" y2="245.00" stroke="#111" stroke-width="1.0" stroke-linecap="butt"/>
<line x1="259.92" y1="237.00" x2="264.72" y2="237.00" stroke="#111" stroke-width="1.0" stroke-linecap="butt"/>
<line x1="259.92" y1="245.00" x2="264.72" y2="245.00" stroke="#111" stroke-width="1.0" stroke-linecap="butt"/>
<line x1="288.08" y1="263.00" x2="288.08" y2="267.00" stroke="#111" stroke-width="1.0" stroke-linecap="butt"/>
<line x1="285.68" y1="263.00" x2="290.48" y2="263.00" stroke="#111" stroke-width="1.0" stroke-linecap="butt"/>
<line x1="285.68" y1="267.00" x2="290.48" y2="267.00" stroke="#111" stroke-width="1.0" stroke-linecap="butt"/>
<line x1="313.84" y1="270.50" x2="313.84" y2="277.10" stroke="#111" stroke-width="1.0" stroke-linecap="butt"/>
<line x1="311.44" y1="270.50" x2="316.24" y2="270.50" stroke="#111" stroke-width="1.0" stroke-linecap="butt"/>
<line x1="311.44" y1="277.10" x2="316.24" y2="277.10" stroke="#111" stroke-width="1.0" stroke-linecap="butt"/>
<line x1="339.60" y1="278.40" x2="339.60" y2="282.40" stroke="#111" stroke-width="1.0" stroke-linecap="butt"/>
<line x1="337.20" y1="278.40" x2="342.00" y2="278.40" stroke="#111" stroke-width="1.0" stroke-linecap="butt"/>
<line x1="337.20" y1="282.40" x2="342.00" y2="282.40" stroke="#111" stroke-width="1.0" stroke-linecap="butt"/>
<circle cx="210.80" cy="217.70" r="2.35" fill="#a6a6a6" stroke="#111" stroke-width="1.0"/>
<circle cx="236.56" cy="229.20" r="2.35" fill="#a6a6a6" stroke="#111" stroke-width="1.0"/>
<circle cx="262.32" cy="241.00" r="2.35" fill="#a6a6a6" stroke="#111" stroke-width="1.0"/>
<circle cx="288.08" cy="265.00" r="2.35" fill="#a6a6a6" stroke="#111" stroke-width="1.0"/>
<circle cx="313.84" cy="273.80" r="2.35" fill="#a6a6a6" stroke="#111" stroke-width="1.0"/>
<circle cx="339.60" cy="280.40" r="2.35" fill="#a6a6a6" stroke="#111" stroke-width="1.0"/>
<polyline points="210.80,246.30 236.56,258.50 262.32,268.50 288.08,275.80 313.84,281.00 339.60,283.30" fill="none" stroke="#1a1a1a" stroke-width="0.9" stroke-linejoin="round"/>
<line x1="210.80" y1="243.80" x2="210.80" y2="248.80" stroke="#111" stroke-width="1.0" stroke-linecap="butt"/>
<line x1="208.40" y1="243.80" x2="213.20" y2="243.80" stroke="#111" stroke-width="1.0" stroke-linecap="butt"/>
<line x1="208.40" y1="248.80" x2="213.20" y2="248.80" stroke="#111" stroke-width="1.0" stroke-linecap="butt"/>
<line x1="236.56" y1="256.00" x2="236.56" y2="261.00" stroke="#111" stroke-width="1.0" stroke-linecap="butt"/>
<line x1="234.16" y1="256.00" x2="238.96" y2="256.00" stroke="#111" stroke-width="1.0" stroke-linecap="butt"/>
<line x1="234.16" y1="261.00" x2="238.96" y2="261.00" stroke="#111" stroke-width="1.0" stroke-linecap="butt"/>
<line x1="262.32" y1="267.50" x2="262.32" y2="269.50" stroke="#111" stroke-width="1.0" stroke-linecap="butt"/>
<line x1="259.92" y1="267.50" x2="264.72" y2="267.50" stroke="#111" stroke-width="1.0" stroke-linecap="butt"/>
<line x1="259.92" y1="269.50" x2="264.72" y2="269.50" stroke="#111" stroke-width="1.0" stroke-linecap="butt"/>
<line x1="288.08" y1="274.80" x2="288.08" y2="276.80" stroke="#111" stroke-width="1.0" stroke-linecap="butt"/>
<line x1="285.68" y1="274.80" x2="290.48" y2="274.80" stroke="#111" stroke-width="1.0" stroke-linecap="butt"/>
<line x1="285.68" y1="276.80" x2="290.48" y2="276.80" stroke="#111" stroke-width="1.0" stroke-linecap="butt"/>
<line x1="313.84" y1="279.50" x2="313.84" y2="282.50" stroke="#111" stroke-width="1.0" stroke-linecap="butt"/>
<line x1="311.44" y1="279.50" x2="316.24" y2="279.50" stroke="#111" stroke-width="1.0" stroke-linecap="butt"/>
<line x1="311.44" y1="282.50" x2="316.24" y2="282.50" stroke="#111" stroke-width="1.0" stroke-linecap="butt"/>
<line x1="339.60" y1="281.80" x2="339.60" y2="284.80" stroke="#111" stroke-width="1.0" stroke-linecap="butt"/>
<line x1="337.20" y1="281.80" x2="342.00" y2="281.80" stroke="#111" stroke-width="1.0" stroke-linecap="butt"/>
<line x1="337.20" y1="284.80" x2="342.00" y2="284.80" stroke="#111" stroke-width="1.0" stroke-linecap="butt"/>
<polygon points="208.05,248.08 213.55,248.08 210.80,243.33" fill="#fff" stroke="#000" stroke-width="0.85" stroke-linejoin="miter"/>
<polygon points="233.81,260.28 239.31,260.28 236.56,255.53" fill="#fff" stroke="#000" stroke-width="0.85" stroke-linejoin="miter"/>
<polygon points="259.57,270.28 265.07,270.28 262.32,265.53" fill="#fff" stroke="#000" stroke-width="0.85" stroke-linejoin="miter"/>
<polygon points="285.33,277.58 290.83,277.58 288.08,272.83" fill="#fff" stroke="#000" stroke-width="0.85" stroke-linejoin="miter"/>
<polygon points="311.09,282.78 316.59,282.78 313.84,278.03" fill="#fff" stroke="#000" stroke-width="0.85" stroke-linejoin="miter"/>
<polygon points="336.85,285.08 342.35,285.08 339.60,280.33" fill="#fff" stroke="#000" stroke-width="0.85" stroke-linejoin="miter"/>
<text x="348.61" y="170.00" font-size="11.80" font-weight="bold" text-anchor="start" textLength="7.88" lengthAdjust="spacingAndGlyphs" fill="#1a1a1a">E</text>
<text x="425.66" y="177.70" font-size="10.80" text-anchor="start" textLength="29.48" lengthAdjust="spacingAndGlyphs" fill="#1a1a1a">HL60</text>
<line x1="364.50" y1="185.20" x2="364.50" y2="287.60" stroke="#1a1a1a" stroke-width="1.25" stroke-linecap="butt"/>
<line x1="361.50" y1="287.40" x2="364.50" y2="287.40" stroke="#1a1a1a" stroke-width="1.25" stroke-linecap="butt"/>
<text x="361.90" y="287.18" font-size="8.50" text-anchor="end" textLength="5.09" lengthAdjust="spacingAndGlyphs" fill="#1a1a1a">0</text>
<line x1="361.50" y1="266.96" x2="364.50" y2="266.96" stroke="#1a1a1a" stroke-width="1.25" stroke-linecap="butt"/>
<text x="361.90" y="269.34" font-size="8.50" text-anchor="end" textLength="10.18" lengthAdjust="spacingAndGlyphs" fill="#1a1a1a">20</text>
<line x1="361.50" y1="246.52" x2="364.50" y2="246.52" stroke="#1a1a1a" stroke-width="1.25" stroke-linecap="butt"/>
<text x="361.90" y="248.90" font-size="8.50" text-anchor="end" textLength="10.18" lengthAdjust="spacingAndGlyphs" fill="#1a1a1a">40</text>
<line x1="361.50" y1="226.08" x2="364.50" y2="226.08" stroke="#1a1a1a" stroke-width="1.25" stroke-linecap="butt"/>
<text x="361.90" y="228.46" font-size="8.50" text-anchor="end" textLength="10.18" lengthAdjust="spacingAndGlyphs" fill="#1a1a1a">60</text>
<line x1="361.50" y1="205.64" x2="364.50" y2="205.64" stroke="#1a1a1a" stroke-width="1.25" stroke-linecap="butt"/>
<text x="361.90" y="208.02" font-size="8.50" text-anchor="end" textLength="10.18" lengthAdjust="spacingAndGlyphs" fill="#1a1a1a">80</text>
<line x1="361.50" y1="185.20" x2="364.50" y2="185.20" stroke="#1a1a1a" stroke-width="1.25" stroke-linecap="butt"/>
<text x="361.90" y="187.58" font-size="8.50" text-anchor="end" textLength="15.26" lengthAdjust="spacingAndGlyphs" fill="#1a1a1a">100</text>
<line x1="364.50" y1="287.30" x2="518.80" y2="287.30" stroke="#1a1a1a" stroke-width="1.25" stroke-linecap="butt"/>
<line x1="377.50" y1="287.30" x2="377.50" y2="289.50" stroke="#1a1a1a" stroke-width="1.25" stroke-linecap="butt"/>
<line x1="403.20" y1="287.30" x2="403.20" y2="289.50" stroke="#1a1a1a" stroke-width="1.25" stroke-linecap="butt"/>
<line x1="428.90" y1="287.30" x2="428.90" y2="289.50" stroke="#1a1a1a" stroke-width="1.25" stroke-linecap="butt"/>
<line x1="454.60" y1="287.30" x2="454.60" y2="289.50" stroke="#1a1a1a" stroke-width="1.25" stroke-linecap="butt"/>
<line x1="480.30" y1="287.30" x2="480.30" y2="289.50" stroke="#1a1a1a" stroke-width="1.25" stroke-linecap="butt"/>
<line x1="506.00" y1="287.30" x2="506.00" y2="289.50" stroke="#1a1a1a" stroke-width="1.25" stroke-linecap="butt"/>
<text x="377.50" y="298.30" font-size="8.50" text-anchor="middle" textLength="18.90" lengthAdjust="spacingAndGlyphs" fill="#1a1a1a">10:1</text>
<text x="403.20" y="298.30" font-size="8.50" text-anchor="middle" textLength="13.81" lengthAdjust="spacingAndGlyphs" fill="#1a1a1a">5:1</text>
<text x="428.90" y="298.30" font-size="8.50" text-anchor="middle" textLength="21.81" lengthAdjust="spacingAndGlyphs" fill="#1a1a1a">2.5:1</text>
<text x="454.60" y="298.30" font-size="8.50" text-anchor="middle" textLength="21.81" lengthAdjust="spacingAndGlyphs" fill="#1a1a1a">1.3:1</text>
<text x="480.60" y="298.30" font-size="8.50" text-anchor="middle" textLength="21.81" lengthAdjust="spacingAndGlyphs" fill="#1a1a1a">0.6:1</text>
<text x="508.50" y="298.30" font-size="8.50" text-anchor="middle" textLength="21.81" lengthAdjust="spacingAndGlyphs" fill="#1a1a1a">0.3:1</text>
<polyline points="377.50,193.10 403.20,196.50 428.90,205.20 454.60,221.50 480.30,240.20 506.00,259.00" fill="none" stroke="#1a1a1a" stroke-width="0.9" stroke-linejoin="round"/>
<circle cx="377.50" cy="193.10" r="2.55" fill="#000"/>
<circle cx="403.20" cy="196.50" r="2.55" fill="#000"/>
<circle cx="428.90" cy="205.20" r="2.55" fill="#000"/>
<circle cx="454.60" cy="221.50" r="2.55" fill="#000"/>
<circle cx="480.30" cy="240.20" r="2.55" fill="#000"/>
<circle cx="506.00" cy="259.00" r="2.55" fill="#000"/>
<line x1="377.50" y1="190.20" x2="377.50" y2="196.00" stroke="#111" stroke-width="1.0" stroke-linecap="butt"/>
<line x1="375.10" y1="190.20" x2="379.90" y2="190.20" stroke="#111" stroke-width="1.0" stroke-linecap="butt"/>
<line x1="375.10" y1="196.00" x2="379.90" y2="196.00" stroke="#111" stroke-width="1.0" stroke-linecap="butt"/>
<line x1="403.20" y1="194.00" x2="403.20" y2="199.00" stroke="#111" stroke-width="1.0" stroke-linecap="butt"/>
<line x1="400.80" y1="194.00" x2="405.60" y2="194.00" stroke="#111" stroke-width="1.0" stroke-linecap="butt"/>
<line x1="400.80" y1="199.00" x2="405.60" y2="199.00" stroke="#111" stroke-width="1.0" stroke-linecap="butt"/>
<line x1="428.90" y1="202.70" x2="428.90" y2="207.70" stroke="#111" stroke-width="1.0" stroke-linecap="butt"/>
<line x1="426.50" y1="202.70" x2="431.30" y2="202.70" stroke="#111" stroke-width="1.0" stroke-linecap="butt"/>
<line x1="426.50" y1="207.70" x2="431.30" y2="207.70" stroke="#111" stroke-width="1.0" stroke-linecap="butt"/>
<line x1="454.60" y1="218.60" x2="454.60" y2="224.40" stroke="#111" stroke-width="1.0" stroke-linecap="butt"/>
<line x1="452.20" y1="218.60" x2="457.00" y2="218.60" stroke="#111" stroke-width="1.0" stroke-linecap="butt"/>
<line x1="452.20" y1="224.40" x2="457.00" y2="224.40" stroke="#111" stroke-width="1.0" stroke-linecap="butt"/>
<line x1="480.30" y1="237.30" x2="480.30" y2="243.10" stroke="#111" stroke-width="1.0" stroke-linecap="butt"/>
<line x1="477.90" y1="237.30" x2="482.70" y2="237.30" stroke="#111" stroke-width="1.0" stroke-linecap="butt"/>
<line x1="477.90" y1="243.10" x2="482.70" y2="243.10" stroke="#111" stroke-width="1.0" stroke-linecap="butt"/>
<line x1="506.00" y1="256.00" x2="506.00" y2="262.00" stroke="#111" stroke-width="1.0" stroke-linecap="butt"/>
<line x1="503.60" y1="256.00" x2="508.40" y2="256.00" stroke="#111" stroke-width="1.0" stroke-linecap="butt"/>
<line x1="503.60" y1="262.00" x2="508.40" y2="262.00" stroke="#111" stroke-width="1.0" stroke-linecap="butt"/>
<polyline points="377.50,211.50 403.20,214.80 428.90,227.70 454.60,241.20 480.30,259.40 506.00,274.20" fill="none" stroke="#1a1a1a" stroke-width="0.9" stroke-linejoin="round"/>
<line x1="377.50" y1="209.50" x2="377.50" y2="213.50" stroke="#111" stroke-width="1.0" stroke-linecap="butt"/>
<line x1="375.10" y1="209.50" x2="379.90" y2="209.50" stroke="#111" stroke-width="1.0" stroke-linecap="butt"/>
<line x1="375.10" y1="213.50" x2="379.90" y2="213.50" stroke="#111" stroke-width="1.0" stroke-linecap="butt"/>
<line x1="403.20" y1="209.30" x2="403.20" y2="220.30" stroke="#111" stroke-width="1.0" stroke-linecap="butt"/>
<line x1="400.80" y1="209.30" x2="405.60" y2="209.30" stroke="#111" stroke-width="1.0" stroke-linecap="butt"/>
<line x1="400.80" y1="220.30" x2="405.60" y2="220.30" stroke="#111" stroke-width="1.0" stroke-linecap="butt"/>
<line x1="428.90" y1="220.70" x2="428.90" y2="234.70" stroke="#111" stroke-width="1.0" stroke-linecap="butt"/>
<line x1="426.50" y1="220.70" x2="431.30" y2="220.70" stroke="#111" stroke-width="1.0" stroke-linecap="butt"/>
<line x1="426.50" y1="234.70" x2="431.30" y2="234.70" stroke="#111" stroke-width="1.0" stroke-linecap="butt"/>
<line x1="454.60" y1="234.20" x2="454.60" y2="248.20" stroke="#111" stroke-width="1.0" stroke-linecap="butt"/>
<line x1="452.20" y1="234.20" x2="457.00" y2="234.20" stroke="#111" stroke-width="1.0" stroke-linecap="butt"/>
<line x1="452.20" y1="248.20" x2="457.00" y2="248.20" stroke="#111" stroke-width="1.0" stroke-linecap="butt"/>
<line x1="480.30" y1="253.40" x2="480.30" y2="265.40" stroke="#111" stroke-width="1.0" stroke-linecap="butt"/>
<line x1="477.90" y1="253.40" x2="482.70" y2="253.40" stroke="#111" stroke-width="1.0" stroke-linecap="butt"/>
<line x1="477.90" y1="265.40" x2="482.70" y2="265.40" stroke="#111" stroke-width="1.0" stroke-linecap="butt"/>
<line x1="506.00" y1="271.70" x2="506.00" y2="276.70" stroke="#111" stroke-width="1.0" stroke-linecap="butt"/>
<line x1="503.60" y1="271.70" x2="508.40" y2="271.70" stroke="#111" stroke-width="1.0" stroke-linecap="butt"/>
<line x1="503.60" y1="276.70" x2="508.40" y2="276.70" stroke="#111" stroke-width="1.0" stroke-linecap="butt"/>
<circle cx="377.50" cy="211.50" r="2.35" fill="#a6a6a6" stroke="#111" stroke-width="1.0"/>
<circle cx="403.20" cy="214.80" r="2.35" fill="#a6a6a6" stroke="#111" stroke-width="1.0"/>
<circle cx="428.90" cy="227.70" r="2.35" fill="#a6a6a6" stroke="#111" stroke-width="1.0"/>
<circle cx="454.60" cy="241.20" r="2.35" fill="#a6a6a6" stroke="#111" stroke-width="1.0"/>
<circle cx="480.30" cy="259.40" r="2.35" fill="#a6a6a6" stroke="#111" stroke-width="1.0"/>
<circle cx="506.00" cy="274.20" r="2.35" fill="#a6a6a6" stroke="#111" stroke-width="1.0"/>
<polyline points="377.50,227.30 403.20,237.90 428.90,252.10 454.60,264.60 480.30,274.20 506.00,276.90" fill="none" stroke="#1a1a1a" stroke-width="0.9" stroke-linejoin="round"/>
<line x1="377.50" y1="221.00" x2="377.50" y2="233.60" stroke="#111" stroke-width="1.0" stroke-linecap="butt"/>
<line x1="375.10" y1="221.00" x2="379.90" y2="221.00" stroke="#111" stroke-width="1.0" stroke-linecap="butt"/>
<line x1="375.10" y1="233.60" x2="379.90" y2="233.60" stroke="#111" stroke-width="1.0" stroke-linecap="butt"/>
<line x1="403.20" y1="235.40" x2="403.20" y2="240.40" stroke="#111" stroke-width="1.0" stroke-linecap="butt"/>
<line x1="400.80" y1="235.40" x2="405.60" y2="235.40" stroke="#111" stroke-width="1.0" stroke-linecap="butt"/>
<line x1="400.80" y1="240.40" x2="405.60" y2="240.40" stroke="#111" stroke-width="1.0" stroke-linecap="butt"/>
<line x1="428.90" y1="250.60" x2="428.90" y2="253.60" stroke="#111" stroke-width="1.0" stroke-linecap="butt"/>
<line x1="426.50" y1="250.60" x2="431.30" y2="250.60" stroke="#111" stroke-width="1.0" stroke-linecap="butt"/>
<line x1="426.50" y1="253.60" x2="431.30" y2="253.60" stroke="#111" stroke-width="1.0" stroke-linecap="butt"/>
<line x1="454.60" y1="263.10" x2="454.60" y2="266.10" stroke="#111" stroke-width="1.0" stroke-linecap="butt"/>
<line x1="452.20" y1="263.10" x2="457.00" y2="263.10" stroke="#111" stroke-width="1.0" stroke-linecap="butt"/>
<line x1="452.20" y1="266.10" x2="457.00" y2="266.10" stroke="#111" stroke-width="1.0" stroke-linecap="butt"/>
<line x1="480.30" y1="271.70" x2="480.30" y2="276.70" stroke="#111" stroke-width="1.0" stroke-linecap="butt"/>
<line x1="477.90" y1="271.70" x2="482.70" y2="271.70" stroke="#111" stroke-width="1.0" stroke-linecap="butt"/>
<line x1="477.90" y1="276.70" x2="482.70" y2="276.70" stroke="#111" stroke-width="1.0" stroke-linecap="butt"/>
<line x1="506.00" y1="275.90" x2="506.00" y2="277.90" stroke="#111" stroke-width="1.0" stroke-linecap="butt"/>
<line x1="503.60" y1="275.90" x2="508.40" y2="275.90" stroke="#111" stroke-width="1.0" stroke-linecap="butt"/>
<line x1="503.60" y1="277.90" x2="508.40" y2="277.90" stroke="#111" stroke-width="1.0" stroke-linecap="butt"/>
<polygon points="374.75,229.08 380.25,229.08 377.50,224.33" fill="#fff" stroke="#000" stroke-width="0.85" stroke-linejoin="miter"/>
<polygon points="400.45,239.68 405.95,239.68 403.20,234.93" fill="#fff" stroke="#000" stroke-width="0.85" stroke-linejoin="miter"/>
<polygon points="426.15,253.88 431.65,253.88 428.90,249.13" fill="#fff" stroke="#000" stroke-width="0.85" stroke-linejoin="miter"/>
<polygon points="451.85,266.38 457.35,266.38 454.60,261.63" fill="#fff" stroke="#000" stroke-width="0.85" stroke-linejoin="miter"/>
<polygon points="477.55,275.98 483.05,275.98 480.30,271.23" fill="#fff" stroke="#000" stroke-width="0.85" stroke-linejoin="miter"/>
<polygon points="503.25,278.68 508.75,278.68 506.00,273.93" fill="#fff" stroke="#000" stroke-width="0.85" stroke-linejoin="miter"/>
<text x="0.31" y="329.60" font-size="11.80" font-weight="bold" text-anchor="start" textLength="7.48" lengthAdjust="spacingAndGlyphs" fill="#1a1a1a">F</text>
<text x="90.23" y="336.50" font-size="9.50" text-anchor="start" textLength="62.55" lengthAdjust="spacingAndGlyphs" fill="#1a1a1a">E:T ratio 2:1</text>
<text x="90.23" y="347.60" font-size="9.50" text-anchor="start" textLength="62.15" lengthAdjust="spacingAndGlyphs" fill="#1a1a1a">mAb washed</text>
<line x1="32.20" y1="348.50" x2="32.20" y2="451.00" stroke="#1a1a1a" stroke-width="1.25" stroke-linecap="butt"/>
<line x1="29.20" y1="450.50" x2="32.20" y2="450.50" stroke="#1a1a1a" stroke-width="1.25" stroke-linecap="butt"/>
<text x="29.90" y="450.88" font-size="8.50" text-anchor="end" textLength="5.09" lengthAdjust="spacingAndGlyphs" fill="#1a1a1a">0</text>
<line x1="29.20" y1="425.00" x2="32.20" y2="425.00" stroke="#1a1a1a" stroke-width="1.25" stroke-linecap="butt"/>
<text x="29.90" y="427.38" font-size="8.50" text-anchor="end" textLength="10.18" lengthAdjust="spacingAndGlyphs" fill="#1a1a1a">10</text>
<line x1="29.20" y1="399.50" x2="32.20" y2="399.50" stroke="#1a1a1a" stroke-width="1.25" stroke-linecap="butt"/>
<text x="29.90" y="401.88" font-size="8.50" text-anchor="end" textLength="10.18" lengthAdjust="spacingAndGlyphs" fill="#1a1a1a">20</text>
<line x1="29.20" y1="374.00" x2="32.20" y2="374.00" stroke="#1a1a1a" stroke-width="1.25" stroke-linecap="butt"/>
<text x="29.90" y="376.38" font-size="8.50" text-anchor="end" textLength="10.18" lengthAdjust="spacingAndGlyphs" fill="#1a1a1a">30</text>
<line x1="29.20" y1="348.50" x2="32.20" y2="348.50" stroke="#1a1a1a" stroke-width="1.25" stroke-linecap="butt"/>
<text x="29.90" y="350.88" font-size="8.50" text-anchor="end" textLength="10.18" lengthAdjust="spacingAndGlyphs" fill="#1a1a1a">40</text>
<line x1="32.20" y1="450.80" x2="186.50" y2="450.80" stroke="#1a1a1a" stroke-width="1.25" stroke-linecap="butt"/>
<line x1="49.10" y1="450.80" x2="49.10" y2="453.00" stroke="#1a1a1a" stroke-width="1.25" stroke-linecap="butt"/>
<line x1="81.60" y1="450.80" x2="81.60" y2="453.00" stroke="#1a1a1a" stroke-width="1.25" stroke-linecap="butt"/>
<line x1="114.10" y1="450.80" x2="114.10" y2="453.00" stroke="#1a1a1a" stroke-width="1.25" stroke-linecap="butt"/>
<line x1="147.10" y1="450.80" x2="147.10" y2="453.00" stroke="#1a1a1a" stroke-width="1.25" stroke-linecap="butt"/>
<line x1="179.80" y1="450.80" x2="179.80" y2="453.00" stroke="#1a1a1a" stroke-width="1.25" stroke-linecap="butt"/>
<text x="43.32" y="461.20" font-size="8.50" text-anchor="start" textLength="10.18" lengthAdjust="spacingAndGlyphs" fill="#1a1a1a">10</text>
<text x="53.70" y="458.30" font-size="5.00" text-anchor="start" textLength="3.18" lengthAdjust="spacingAndGlyphs" fill="#555" style="stroke:none">3</text>
<text x="75.82" y="461.20" font-size="8.50" text-anchor="start" textLength="10.18" lengthAdjust="spacingAndGlyphs" fill="#1a1a1a">10</text>
<text x="86.20" y="458.30" font-size="5.00" text-anchor="start" textLength="3.18" lengthAdjust="spacingAndGlyphs" fill="#555" style="stroke:none">2</text>
<text x="115.10" y="461.20" font-size="8.50" text-anchor="middle" textLength="10.18" lengthAdjust="spacingAndGlyphs" fill="#1a1a1a">10</text>
<text x="148.30" y="461.20" font-size="8.50" text-anchor="middle" textLength="5.09" lengthAdjust="spacingAndGlyphs" fill="#1a1a1a">1</text>
<text x="175.24" y="461.20" font-size="8.50" text-anchor="start" textLength="10.18" lengthAdjust="spacingAndGlyphs" fill="#1a1a1a">10</text>
<text x="185.62" y="458.30" font-size="5.00" text-anchor="start" textLength="5.33" lengthAdjust="spacingAndGlyphs" fill="#555" style="stroke:none">-1</text>
<text x="58.23" y="474.00" font-size="9.30" text-anchor="start" textLength="106.23" lengthAdjust="spacingAndGlyphs" fill="#1a1a1a">anti-CD33 mAb (ng/ml)</text>
<text transform="translate(9.40,391.40) rotate(-90)" x="0" y="0" font-size="9.80" text-anchor="middle" textLength="71.80" lengthAdjust="spacingAndGlyphs" fill="#1a1a1a">Cytotoxicity (%)</text>
<polyline points="49.10,378.30 81.60,385.60 114.10,393.60 147.10,412.10 179.80,431.50" fill="none" stroke="#1a1a1a" stroke-width="0.9" stroke-linejoin="round"/>
<circle cx="49.10" cy="378.30" r="2.55" fill="#000"/>
<circle cx="81.60" cy="385.60" r="2.55" fill="#000"/>
<circle cx="114.10" cy="393.60" r="2.55" fill="#000"/>
<circle cx="147.10" cy="412.10" r="2.55" fill="#000"/>
<circle cx="179.80" cy="431.50" r="2.55" fill="#000"/>
<line x1="49.10" y1="364.50" x2="49.10" y2="392.10" stroke="#111" stroke-width="1.0" stroke-linecap="butt"/>
<line x1="46.70" y1="364.50" x2="51.50" y2="364.50" stroke="#111" stroke-width="1.0" stroke-linecap="butt"/>
<line x1="46.70" y1="392.10" x2="51.50" y2="392.10" stroke="#111" stroke-width="1.0" stroke-linecap="butt"/>
<line x1="81.60" y1="370.30" x2="81.60" y2="400.90" stroke="#111" stroke-width="1.0" stroke-linecap="butt"/>
<line x1="79.20" y1="370.30" x2="84.00" y2="370.30" stroke="#111" stroke-width="1.0" stroke-linecap="butt"/>
<line x1="79.20" y1="400.90" x2="84.00" y2="400.90" stroke="#111" stroke-width="1.0" stroke-linecap="butt"/>
<line x1="114.10" y1="371.90" x2="114.10" y2="415.30" stroke="#111" stroke-width="1.0" stroke-linecap="butt"/>
<line x1="111.70" y1="371.90" x2="116.50" y2="371.90" stroke="#111" stroke-width="1.0" stroke-linecap="butt"/>
<line x1="111.70" y1="415.30" x2="116.50" y2="415.30" stroke="#111" stroke-width="1.0" stroke-linecap="butt"/>
<line x1="147.10" y1="400.30" x2="147.10" y2="423.90" stroke="#111" stroke-width="1.0" stroke-linecap="butt"/>
<line x1="144.70" y1="400.30" x2="149.50" y2="400.30" stroke="#111" stroke-width="1.0" stroke-linecap="butt"/>
<line x1="144.70" y1="423.90" x2="149.50" y2="423.90" stroke="#111" stroke-width="1.0" stroke-linecap="butt"/>
<line x1="179.80" y1="424.70" x2="179.80" y2="438.30" stroke="#111" stroke-width="1.0" stroke-linecap="butt"/>
<line x1="177.40" y1="424.70" x2="182.20" y2="424.70" stroke="#111" stroke-width="1.0" stroke-linecap="butt"/>
<line x1="177.40" y1="438.30" x2="182.20" y2="438.30" stroke="#111" stroke-width="1.0" stroke-linecap="butt"/>
<polyline points="49.10,423.70 81.60,426.20 114.10,431.50 147.10,432.50 179.80,443.50" fill="none" stroke="#1a1a1a" stroke-width="0.9" stroke-linejoin="round"/>
<line x1="49.10" y1="415.10" x2="49.10" y2="432.30" stroke="#111" stroke-width="1.0" stroke-linecap="butt"/>
<line x1="46.70" y1="415.10" x2="51.50" y2="415.10" stroke="#111" stroke-width="1.0" stroke-linecap="butt"/>
<line x1="46.70" y1="432.30" x2="51.50" y2="432.30" stroke="#111" stroke-width="1.0" stroke-linecap="butt"/>
<line x1="81.60" y1="421.70" x2="81.60" y2="430.70" stroke="#111" stroke-width="1.0" stroke-linecap="butt"/>
<line x1="79.20" y1="421.70" x2="84.00" y2="421.70" stroke="#111" stroke-width="1.0" stroke-linecap="butt"/>
<line x1="79.20" y1="430.70" x2="84.00" y2="430.70" stroke="#111" stroke-width="1.0" stroke-linecap="butt"/>
<line x1="114.10" y1="425.30" x2="114.10" y2="437.70" stroke="#111" stroke-width="1.0" stroke-linecap="butt"/>
<line x1="111.70" y1="425.30" x2="116.50" y2="425.30" stroke="#111" stroke-width="1.0" stroke-linecap="butt"/>
<line x1="111.70" y1="437.70" x2="116.50" y2="437.70" stroke="#111" stroke-width="1.0" stroke-linecap="butt"/>
<line x1="147.10" y1="428.20" x2="147.10" y2="436.80" stroke="#111" stroke-width="1.0" stroke-linecap="butt"/>
<line x1="144.70" y1="428.20" x2="149.50" y2="428.20" stroke="#111" stroke-width="1.0" stroke-linecap="butt"/>
<line x1="144.70" y1="436.80" x2="149.50" y2="436.80" stroke="#111" stroke-width="1.0" stroke-linecap="butt"/>
<line x1="179.80" y1="442.50" x2="179.80" y2="444.50" stroke="#111" stroke-width="1.0" stroke-linecap="butt"/>
<line x1="177.40" y1="442.50" x2="182.20" y2="442.50" stroke="#111" stroke-width="1.0" stroke-linecap="butt"/>
<line x1="177.40" y1="444.50" x2="182.20" y2="444.50" stroke="#111" stroke-width="1.0" stroke-linecap="butt"/>
<circle cx="49.10" cy="423.70" r="2.35" fill="#a6a6a6" stroke="#111" stroke-width="1.0"/>
<circle cx="81.60" cy="426.20" r="2.35" fill="#a6a6a6" stroke="#111" stroke-width="1.0"/>
<circle cx="114.10" cy="431.50" r="2.35" fill="#a6a6a6" stroke="#111" stroke-width="1.0"/>
<circle cx="147.10" cy="432.50" r="2.35" fill="#a6a6a6" stroke="#111" stroke-width="1.0"/>
<circle cx="179.80" cy="443.50" r="2.35" fill="#a6a6a6" stroke="#111" stroke-width="1.0"/>
<line x1="49.00" y1="357.80" x2="114.20" y2="357.80" stroke="#1a1a1a" stroke-width="1.5" stroke-linecap="butt"/>
<line x1="74.40" y1="355.30" x2="74.40" y2="351.10" stroke="#111" stroke-width="1.15" stroke-linecap="butt"/>
<line x1="72.58" y1="354.25" x2="76.22" y2="352.15" stroke="#111" stroke-width="1.15" stroke-linecap="butt"/>
<line x1="72.58" y1="352.15" x2="76.22" y2="354.25" stroke="#111" stroke-width="1.15" stroke-linecap="butt"/>
<circle cx="74.40" cy="353.20" r="0.95" fill="#111"/>
<line x1="80.15" y1="355.30" x2="80.15" y2="351.10" stroke="#111" stroke-width="1.15" stroke-linecap="butt"/>
<line x1="78.33" y1="354.25" x2="81.97" y2="352.15" stroke="#111" stroke-width="1.15" stroke-linecap="butt"/>
<line x1="78.33" y1="352.15" x2="81.97" y2="354.25" stroke="#111" stroke-width="1.15" stroke-linecap="butt"/>
<circle cx="80.15" cy="353.20" r="0.95" fill="#111"/>
<line x1="85.90" y1="355.30" x2="85.90" y2="351.10" stroke="#111" stroke-width="1.15" stroke-linecap="butt"/>
<line x1="84.08" y1="354.25" x2="87.72" y2="352.15" stroke="#111" stroke-width="1.15" stroke-linecap="butt"/>
<line x1="84.08" y1="352.15" x2="87.72" y2="354.25" stroke="#111" stroke-width="1.15" stroke-linecap="butt"/>
<circle cx="85.90" cy="353.20" r="0.95" fill="#111"/>
<line x1="147.10" y1="395.00" x2="147.10" y2="391.00" stroke="#111" stroke-width="1.15" stroke-linecap="butt"/>
<line x1="145.37" y1="394.00" x2="148.83" y2="392.00" stroke="#111" stroke-width="1.15" stroke-linecap="butt"/>
<line x1="145.37" y1="392.00" x2="148.83" y2="394.00" stroke="#111" stroke-width="1.15" stroke-linecap="butt"/>
<circle cx="147.10" cy="393.00" r="0.90" fill="#111"/>
<circle cx="121.30" cy="367.20" r="2.7" fill="#000"/>
<circle cx="121.30" cy="379.80" r="2.3" fill="#999" stroke="#222" stroke-width="1.0"/>
<text x="124.10" y="370.50" font-size="10.00" text-anchor="start" textLength="54.10" lengthAdjust="spacingAndGlyphs" fill="#1a1a1a">DLE-HuM195</text>
<text x="124.10" y="383.30" font-size="10.00" text-anchor="start" textLength="48.40" lengthAdjust="spacingAndGlyphs" fill="#1a1a1a">wt-HuM195</text>
<text x="181.11" y="330.20" font-size="11.80" font-weight="bold" text-anchor="start" textLength="9.68" lengthAdjust="spacingAndGlyphs" fill="#1a1a1a">G</text>
<text x="230.12" y="336.00" font-size="9.50" text-anchor="start" textLength="90.35" lengthAdjust="spacingAndGlyphs" fill="#1a1a1a">1 µg/ml anti-CD33</text>
<text x="243.53" y="347.20" font-size="9.50" text-anchor="start" textLength="61.45" lengthAdjust="spacingAndGlyphs" fill="#1a1a1a">mAb washed</text>
<line x1="198.60" y1="348.48" x2="198.60" y2="450.70" stroke="#1a1a1a" stroke-width="1.25" stroke-linecap="butt"/>
<line x1="195.60" y1="450.40" x2="198.60" y2="450.40" stroke="#1a1a1a" stroke-width="1.25" stroke-linecap="butt"/>
<text x="195.30" y="453.20" font-size="8.50" text-anchor="end" textLength="5.09" lengthAdjust="spacingAndGlyphs" fill="#1a1a1a">0</text>
<line x1="195.60" y1="424.92" x2="198.60" y2="424.92" stroke="#1a1a1a" stroke-width="1.25" stroke-linecap="butt"/>
<text x="195.30" y="427.72" font-size="8.50" text-anchor="end" textLength="10.18" lengthAdjust="spacingAndGlyphs" fill="#1a1a1a">10</text>
<line x1="195.60" y1="399.44" x2="198.60" y2="399.44" stroke="#1a1a1a" stroke-width="1.25" stroke-linecap="butt"/>
<text x="195.30" y="402.25" font-size="8.50" text-anchor="end" textLength="10.18" lengthAdjust="spacingAndGlyphs" fill="#1a1a1a">20</text>
<line x1="195.60" y1="373.96" x2="198.60" y2="373.96" stroke="#1a1a1a" stroke-width="1.25" stroke-linecap="butt"/>
<text x="195.30" y="376.76" font-size="8.50" text-anchor="end" textLength="10.18" lengthAdjust="spacingAndGlyphs" fill="#1a1a1a">30</text>
<line x1="195.60" y1="348.48" x2="198.60" y2="348.48" stroke="#1a1a1a" stroke-width="1.25" stroke-linecap="butt"/>
<text x="195.30" y="351.28" font-size="8.50" text-anchor="end" textLength="10.18" lengthAdjust="spacingAndGlyphs" fill="#1a1a1a">40</text>
<line x1="198.60" y1="450.40" x2="349.80" y2="450.40" stroke="#1a1a1a" stroke-width="1.25" stroke-linecap="butt"/>
<line x1="210.80" y1="450.40" x2="210.80" y2="452.60" stroke="#1a1a1a" stroke-width="1.25" stroke-linecap="butt"/>
<line x1="236.40" y1="450.40" x2="236.40" y2="452.60" stroke="#1a1a1a" stroke-width="1.25" stroke-linecap="butt"/>
<line x1="262.00" y1="450.40" x2="262.00" y2="452.60" stroke="#1a1a1a" stroke-width="1.25" stroke-linecap="butt"/>
<line x1="287.60" y1="450.40" x2="287.60" y2="452.60" stroke="#1a1a1a" stroke-width="1.25" stroke-linecap="butt"/>
<line x1="313.20" y1="450.40" x2="313.20" y2="452.60" stroke="#1a1a1a" stroke-width="1.25" stroke-linecap="butt"/>
<line x1="338.80" y1="450.40" x2="338.80" y2="452.60" stroke="#1a1a1a" stroke-width="1.25" stroke-linecap="butt"/>
<text x="210.80" y="461.30" font-size="8.50" text-anchor="middle" textLength="18.90" lengthAdjust="spacingAndGlyphs" fill="#1a1a1a">10:1</text>
<text x="236.40" y="461.30" font-size="8.50" text-anchor="middle" textLength="13.81" lengthAdjust="spacingAndGlyphs" fill="#1a1a1a">5:1</text>
<text x="262.00" y="461.30" font-size="8.50" text-anchor="middle" textLength="21.81" lengthAdjust="spacingAndGlyphs" fill="#1a1a1a">2.5:1</text>
<text x="287.60" y="461.30" font-size="8.50" text-anchor="middle" textLength="21.81" lengthAdjust="spacingAndGlyphs" fill="#1a1a1a">1.3:1</text>
<text x="313.20" y="461.30" font-size="8.50" text-anchor="middle" textLength="21.81" lengthAdjust="spacingAndGlyphs" fill="#1a1a1a">0.6:1</text>
<text x="338.80" y="461.30" font-size="8.50" text-anchor="middle" textLength="21.81" lengthAdjust="spacingAndGlyphs" fill="#1a1a1a">0.3:1</text>
<text x="258.74" y="475.20" font-size="9.30" text-anchor="start" textLength="43.43" lengthAdjust="spacingAndGlyphs" fill="#1a1a1a">E:T ratios</text>
<polyline points="210.80,359.60 236.40,369.00 262.00,371.90 287.60,392.30 313.20,407.70 338.80,414.80" fill="none" stroke="#1a1a1a" stroke-width="1.45" stroke-linejoin="round"/>
<circle cx="210.80" cy="359.60" r="2.8" fill="#000"/>
<circle cx="236.40" cy="369.00" r="2.8" fill="#000"/>
<circle cx="262.00" cy="371.90" r="2.8" fill="#000"/>
<circle cx="287.60" cy="392.30" r="2.8" fill="#000"/>
<circle cx="313.20" cy="407.70" r="2.8" fill="#000"/>
<circle cx="338.80" cy="414.80" r="2.8" fill="#000"/>
<line x1="210.80" y1="356.90" x2="210.80" y2="362.30" stroke="#111" stroke-width="1.2325" stroke-linecap="butt"/>
<line x1="208.40" y1="356.90" x2="213.20" y2="356.90" stroke="#111" stroke-width="1.2325" stroke-linecap="butt"/>
<line x1="208.40" y1="362.30" x2="213.20" y2="362.30" stroke="#111" stroke-width="1.2325" stroke-linecap="butt"/>
<line x1="236.40" y1="366.00" x2="236.40" y2="372.00" stroke="#111" stroke-width="1.2325" stroke-linecap="butt"/>
<line x1="234.00" y1="366.00" x2="238.80" y2="366.00" stroke="#111" stroke-width="1.2325" stroke-linecap="butt"/>
<line x1="234.00" y1="372.00" x2="238.80" y2="372.00" stroke="#111" stroke-width="1.2325" stroke-linecap="butt"/>
<line x1="262.00" y1="369.90" x2="262.00" y2="373.90" stroke="#111" stroke-width="1.2325" stroke-linecap="butt"/>
<line x1="259.60" y1="369.90" x2="264.40" y2="369.90" stroke="#111" stroke-width="1.2325" stroke-linecap="butt"/>
<line x1="259.60" y1="373.90" x2="264.40" y2="373.90" stroke="#111" stroke-width="1.2325" stroke-linecap="butt"/>
<line x1="287.60" y1="389.50" x2="287.60" y2="395.10" stroke="#111" stroke-width="1.2325" stroke-linecap="butt"/>
<line x1="285.20" y1="389.50" x2="290.00" y2="389.50" stroke="#111" stroke-width="1.2325" stroke-linecap="butt"/>
<line x1="285.20" y1="395.10" x2="290.00" y2="395.10" stroke="#111" stroke-width="1.2325" stroke-linecap="butt"/>
<line x1="313.20" y1="404.70" x2="313.20" y2="410.70" stroke="#111" stroke-width="1.2325" stroke-linecap="butt"/>
<line x1="310.80" y1="404.70" x2="315.60" y2="404.70" stroke="#111" stroke-width="1.2325" stroke-linecap="butt"/>
<line x1="310.80" y1="410.70" x2="315.60" y2="410.70" stroke="#111" stroke-width="1.2325" stroke-linecap="butt"/>
<line x1="338.80" y1="406.80" x2="338.80" y2="422.80" stroke="#111" stroke-width="1.2325" stroke-linecap="butt"/>
<line x1="336.40" y1="406.80" x2="341.20" y2="406.80" stroke="#111" stroke-width="1.2325" stroke-linecap="butt"/>
<line x1="336.40" y1="422.80" x2="341.20" y2="422.80" stroke="#111" stroke-width="1.2325" stroke-linecap="butt"/>
<polyline points="210.80,405.40 236.40,422.30 262.00,425.20 287.60,441.60 313.20,440.80 338.80,442.30" fill="none" stroke="#1a1a1a" stroke-width="1.45" stroke-linejoin="round"/>
<line x1="210.80" y1="401.40" x2="210.80" y2="409.40" stroke="#111" stroke-width="1.2325" stroke-linecap="butt"/>
<line x1="208.40" y1="401.40" x2="213.20" y2="401.40" stroke="#111" stroke-width="1.2325" stroke-linecap="butt"/>
<line x1="208.40" y1="409.40" x2="213.20" y2="409.40" stroke="#111" stroke-width="1.2325" stroke-linecap="butt"/>
<line x1="236.40" y1="419.30" x2="236.40" y2="425.30" stroke="#111" stroke-width="1.2325" stroke-linecap="butt"/>
<line x1="234.00" y1="419.30" x2="238.80" y2="419.30" stroke="#111" stroke-width="1.2325" stroke-linecap="butt"/>
<line x1="234.00" y1="425.30" x2="238.80" y2="425.30" stroke="#111" stroke-width="1.2325" stroke-linecap="butt"/>
<line x1="262.00" y1="424.20" x2="262.00" y2="426.20" stroke="#111" stroke-width="1.2325" stroke-linecap="butt"/>
<line x1="259.60" y1="424.20" x2="264.40" y2="424.20" stroke="#111" stroke-width="1.2325" stroke-linecap="butt"/>
<line x1="259.60" y1="426.20" x2="264.40" y2="426.20" stroke="#111" stroke-width="1.2325" stroke-linecap="butt"/>
<line x1="287.60" y1="440.60" x2="287.60" y2="442.60" stroke="#111" stroke-width="1.2325" stroke-linecap="butt"/>
<line x1="285.20" y1="440.60" x2="290.00" y2="440.60" stroke="#111" stroke-width="1.2325" stroke-linecap="butt"/>
<line x1="285.20" y1="442.60" x2="290.00" y2="442.60" stroke="#111" stroke-width="1.2325" stroke-linecap="butt"/>
<line x1="313.20" y1="439.30" x2="313.20" y2="442.30" stroke="#111" stroke-width="1.2325" stroke-linecap="butt"/>
<line x1="310.80" y1="439.30" x2="315.60" y2="439.30" stroke="#111" stroke-width="1.2325" stroke-linecap="butt"/>
<line x1="310.80" y1="442.30" x2="315.60" y2="442.30" stroke="#111" stroke-width="1.2325" stroke-linecap="butt"/>
<line x1="338.80" y1="438.10" x2="338.80" y2="446.50" stroke="#111" stroke-width="1.2325" stroke-linecap="butt"/>
<line x1="336.40" y1="438.10" x2="341.20" y2="438.10" stroke="#111" stroke-width="1.2325" stroke-linecap="butt"/>
<line x1="336.40" y1="446.50" x2="341.20" y2="446.50" stroke="#111" stroke-width="1.2325" stroke-linecap="butt"/>
<circle cx="210.80" cy="405.40" r="2.5" fill="#a6a6a6" stroke="#111" stroke-width="1.0"/>
<circle cx="236.40" cy="422.30" r="2.5" fill="#a6a6a6" stroke="#111" stroke-width="1.0"/>
<circle cx="262.00" cy="425.20" r="2.5" fill="#a6a6a6" stroke="#111" stroke-width="1.0"/>
<circle cx="287.60" cy="441.60" r="2.5" fill="#a6a6a6" stroke="#111" stroke-width="1.0"/>
<circle cx="313.20" cy="440.80" r="2.5" fill="#a6a6a6" stroke="#111" stroke-width="1.0"/>
<circle cx="338.80" cy="442.30" r="2.5" fill="#a6a6a6" stroke="#111" stroke-width="1.0"/>
<line x1="265.80" y1="365.60" x2="265.80" y2="361.40" stroke="#2a2a2a" stroke-width="0.9" stroke-linecap="butt"/>
<line x1="263.98" y1="364.55" x2="267.62" y2="362.45" stroke="#2a2a2a" stroke-width="0.9" stroke-linecap="butt"/>
<line x1="263.98" y1="362.45" x2="267.62" y2="364.55" stroke="#2a2a2a" stroke-width="0.9" stroke-linecap="butt"/>
<circle cx="265.80" cy="363.50" r="0.63" fill="#2a2a2a"/>
<line x1="271.65" y1="365.60" x2="271.65" y2="361.40" stroke="#2a2a2a" stroke-width="0.9" stroke-linecap="butt"/>
<line x1="269.83" y1="364.55" x2="273.47" y2="362.45" stroke="#2a2a2a" stroke-width="0.9" stroke-linecap="butt"/>
<line x1="269.83" y1="362.45" x2="273.47" y2="364.55" stroke="#2a2a2a" stroke-width="0.9" stroke-linecap="butt"/>
<circle cx="271.65" cy="363.50" r="0.63" fill="#2a2a2a"/>
<line x1="277.50" y1="365.60" x2="277.50" y2="361.40" stroke="#2a2a2a" stroke-width="0.9" stroke-linecap="butt"/>
<line x1="275.68" y1="364.55" x2="279.32" y2="362.45" stroke="#2a2a2a" stroke-width="0.9" stroke-linecap="butt"/>
<line x1="275.68" y1="362.45" x2="279.32" y2="364.55" stroke="#2a2a2a" stroke-width="0.9" stroke-linecap="butt"/>
<circle cx="277.50" cy="363.50" r="0.63" fill="#2a2a2a"/>
<line x1="282.30" y1="357.00" x2="282.30" y2="369.90" stroke="#1a1a1a" stroke-width="1.4" stroke-linecap="butt"/>
<circle cx="288.80" cy="356.80" r="2.6" fill="#000"/>
<circle cx="288.80" cy="368.90" r="2.3" fill="#a6a6a6" stroke="#222" stroke-width="0.9"/>
<text x="293.55" y="359.50" font-size="9.00" text-anchor="start" textLength="52.70" lengthAdjust="spacingAndGlyphs" fill="#1a1a1a">DLE-HuM195</text>
<text x="293.55" y="372.00" font-size="9.00" text-anchor="start" textLength="48.00" lengthAdjust="spacingAndGlyphs" fill="#1a1a1a">wt-HuM195</text>
<text x="348.91" y="330.00" font-size="11.80" font-weight="bold" text-anchor="start" textLength="9.58" lengthAdjust="spacingAndGlyphs" fill="#1a1a1a">H</text>
<text x="411.32" y="335.90" font-size="9.50" text-anchor="start" textLength="60.95" lengthAdjust="spacingAndGlyphs" fill="#1a1a1a">E:T ratio 2:1</text>
<text x="401.62" y="346.80" font-size="9.50" text-anchor="start" textLength="80.15" lengthAdjust="spacingAndGlyphs" fill="#1a1a1a">mAb not washed</text>
<line x1="366.00" y1="348.18" x2="366.00" y2="450.40" stroke="#1a1a1a" stroke-width="1.25" stroke-linecap="butt"/>
<line x1="363.00" y1="449.30" x2="366.00" y2="449.30" stroke="#1a1a1a" stroke-width="1.25" stroke-linecap="butt"/>
<text x="363.50" y="451.38" font-size="8.50" text-anchor="end" textLength="5.09" lengthAdjust="spacingAndGlyphs" fill="#1a1a1a">0</text>
<line x1="363.00" y1="424.02" x2="366.00" y2="424.02" stroke="#1a1a1a" stroke-width="1.25" stroke-linecap="butt"/>
<text x="363.50" y="426.40" font-size="8.50" text-anchor="end" textLength="10.18" lengthAdjust="spacingAndGlyphs" fill="#1a1a1a">20</text>
<line x1="363.00" y1="398.74" x2="366.00" y2="398.74" stroke="#1a1a1a" stroke-width="1.25" stroke-linecap="butt"/>
<text x="363.50" y="401.12" font-size="8.50" text-anchor="end" textLength="10.18" lengthAdjust="spacingAndGlyphs" fill="#1a1a1a">40</text>
<line x1="363.00" y1="373.46" x2="366.00" y2="373.46" stroke="#1a1a1a" stroke-width="1.25" stroke-linecap="butt"/>
<text x="363.50" y="375.84" font-size="8.50" text-anchor="end" textLength="10.18" lengthAdjust="spacingAndGlyphs" fill="#1a1a1a">60</text>
<line x1="363.00" y1="348.18" x2="366.00" y2="348.18" stroke="#1a1a1a" stroke-width="1.25" stroke-linecap="butt"/>
<text x="363.50" y="350.56" font-size="8.50" text-anchor="end" textLength="10.18" lengthAdjust="spacingAndGlyphs" fill="#1a1a1a">80</text>
<line x1="366.00" y1="450.10" x2="517.00" y2="450.10" stroke="#1a1a1a" stroke-width="1.25" stroke-linecap="butt"/>
<line x1="381.30" y1="450.10" x2="381.30" y2="452.30" stroke="#1a1a1a" stroke-width="1.25" stroke-linecap="butt"/>
<line x1="411.80" y1="450.10" x2="411.80" y2="452.30" stroke="#1a1a1a" stroke-width="1.25" stroke-linecap="butt"/>
<line x1="442.10" y1="450.10" x2="442.10" y2="452.30" stroke="#1a1a1a" stroke-width="1.25" stroke-linecap="butt"/>
<line x1="472.60" y1="450.10" x2="472.60" y2="452.30" stroke="#1a1a1a" stroke-width="1.25" stroke-linecap="butt"/>
<line x1="503.00" y1="450.10" x2="503.00" y2="452.30" stroke="#1a1a1a" stroke-width="1.25" stroke-linecap="butt"/>
<text x="381.30" y="460.90" font-size="8.50" text-anchor="middle" textLength="10.18" lengthAdjust="spacingAndGlyphs" fill="#1a1a1a">10</text>
<text x="411.80" y="460.90" font-size="8.50" text-anchor="middle" textLength="5.09" lengthAdjust="spacingAndGlyphs" fill="#1a1a1a">5</text>
<text x="442.10" y="460.90" font-size="8.50" text-anchor="middle" textLength="13.09" lengthAdjust="spacingAndGlyphs" fill="#1a1a1a">2.5</text>
<text x="472.60" y="460.90" font-size="8.50" text-anchor="middle" textLength="13.09" lengthAdjust="spacingAndGlyphs" fill="#1a1a1a">1.3</text>
<text x="503.00" y="460.90" font-size="8.50" text-anchor="middle" textLength="13.09" lengthAdjust="spacingAndGlyphs" fill="#1a1a1a">0.6</text>
<text x="391.14" y="474.20" font-size="9.30" text-anchor="start" textLength="106.23" lengthAdjust="spacingAndGlyphs" fill="#1a1a1a">anti-CD33 mAb (µg/ml)</text>
<polyline points="381.30,371.40 411.80,374.40 442.10,374.40 472.60,376.80 503.00,377.00" fill="none" stroke="#1a1a1a" stroke-width="0.9" stroke-linejoin="round"/>
<circle cx="381.30" cy="371.40" r="2.55" fill="#000"/>
<circle cx="411.80" cy="374.40" r="2.55" fill="#000"/>
<circle cx="442.10" cy="374.40" r="2.55" fill="#000"/>
<circle cx="472.60" cy="376.80" r="2.55" fill="#000"/>
<circle cx="503.00" cy="377.00" r="2.55" fill="#000"/>
<line x1="381.30" y1="365.80" x2="381.30" y2="377.00" stroke="#111" stroke-width="1.0" stroke-linecap="butt"/>
<line x1="378.90" y1="365.80" x2="383.70" y2="365.80" stroke="#111" stroke-width="1.0" stroke-linecap="butt"/>
<line x1="378.90" y1="377.00" x2="383.70" y2="377.00" stroke="#111" stroke-width="1.0" stroke-linecap="butt"/>
<line x1="411.80" y1="368.00" x2="411.80" y2="380.80" stroke="#111" stroke-width="1.0" stroke-linecap="butt"/>
<line x1="409.40" y1="368.00" x2="414.20" y2="368.00" stroke="#111" stroke-width="1.0" stroke-linecap="butt"/>
<line x1="409.40" y1="380.80" x2="414.20" y2="380.80" stroke="#111" stroke-width="1.0" stroke-linecap="butt"/>
<line x1="442.10" y1="369.40" x2="442.10" y2="379.40" stroke="#111" stroke-width="1.0" stroke-linecap="butt"/>
<line x1="439.70" y1="369.40" x2="444.50" y2="369.40" stroke="#111" stroke-width="1.0" stroke-linecap="butt"/>
<line x1="439.70" y1="379.40" x2="444.50" y2="379.40" stroke="#111" stroke-width="1.0" stroke-linecap="butt"/>
<line x1="472.60" y1="370.20" x2="472.60" y2="383.40" stroke="#111" stroke-width="1.0" stroke-linecap="butt"/>
<line x1="470.20" y1="370.20" x2="475.00" y2="370.20" stroke="#111" stroke-width="1.0" stroke-linecap="butt"/>
<line x1="470.20" y1="383.40" x2="475.00" y2="383.40" stroke="#111" stroke-width="1.0" stroke-linecap="butt"/>
<line x1="503.00" y1="371.60" x2="503.00" y2="382.40" stroke="#111" stroke-width="1.0" stroke-linecap="butt"/>
<line x1="500.60" y1="371.60" x2="505.40" y2="371.60" stroke="#111" stroke-width="1.0" stroke-linecap="butt"/>
<line x1="500.60" y1="382.40" x2="505.40" y2="382.40" stroke="#111" stroke-width="1.0" stroke-linecap="butt"/>
<polyline points="381.30,442.60 411.80,442.50 442.10,449.40 472.60,448.00 503.00,449.50" fill="none" stroke="#1a1a1a" stroke-width="0.9" stroke-linejoin="round"/>
<line x1="381.30" y1="437.60" x2="381.30" y2="447.60" stroke="#111" stroke-width="1.0" stroke-linecap="butt"/>
<line x1="378.90" y1="437.60" x2="383.70" y2="437.60" stroke="#111" stroke-width="1.0" stroke-linecap="butt"/>
<line x1="378.90" y1="447.60" x2="383.70" y2="447.60" stroke="#111" stroke-width="1.0" stroke-linecap="butt"/>
<circle cx="381.30" cy="442.60" r="2.35" fill="#a6a6a6" stroke="#111" stroke-width="1.0"/>
<line x1="411.80" y1="439.50" x2="411.80" y2="445.50" stroke="#111" stroke-width="1.0" stroke-linecap="butt"/>
<line x1="409.40" y1="439.50" x2="414.20" y2="439.50" stroke="#111" stroke-width="1.0" stroke-linecap="butt"/>
<line x1="409.40" y1="445.50" x2="414.20" y2="445.50" stroke="#111" stroke-width="1.0" stroke-linecap="butt"/>
<circle cx="411.80" cy="442.50" r="2.35" fill="#a6a6a6" stroke="#111" stroke-width="1.0"/>
<circle cx="442.10" cy="449.40" r="2.35" fill="#a6a6a6" stroke="#111" stroke-width="1.0"/>
<line x1="472.60" y1="446.80" x2="472.60" y2="449.20" stroke="#111" stroke-width="1.0" stroke-linecap="butt"/>
<line x1="470.20" y1="446.80" x2="475.00" y2="446.80" stroke="#111" stroke-width="1.0" stroke-linecap="butt"/>
<line x1="470.20" y1="449.20" x2="475.00" y2="449.20" stroke="#111" stroke-width="1.0" stroke-linecap="butt"/>
<circle cx="472.60" cy="448.00" r="2.35" fill="#a6a6a6" stroke="#111" stroke-width="1.0"/>
<line x1="413.00" y1="411.20" x2="413.00" y2="407.00" stroke="#2a2a2a" stroke-width="0.9" stroke-linecap="butt"/>
<line x1="411.18" y1="410.15" x2="414.82" y2="408.05" stroke="#2a2a2a" stroke-width="0.9" stroke-linecap="butt"/>
<line x1="411.18" y1="408.05" x2="414.82" y2="410.15" stroke="#2a2a2a" stroke-width="0.9" stroke-linecap="butt"/>
<circle cx="413.00" cy="409.10" r="0.63" fill="#2a2a2a"/>
<line x1="418.77" y1="411.20" x2="418.77" y2="407.00" stroke="#2a2a2a" stroke-width="0.9" stroke-linecap="butt"/>
<line x1="416.95" y1="410.15" x2="420.59" y2="408.05" stroke="#2a2a2a" stroke-width="0.9" stroke-linecap="butt"/>
<line x1="416.95" y1="408.05" x2="420.59" y2="410.15" stroke="#2a2a2a" stroke-width="0.9" stroke-linecap="butt"/>
<circle cx="418.77" cy="409.10" r="0.63" fill="#2a2a2a"/>
<line x1="424.54" y1="411.20" x2="424.54" y2="407.00" stroke="#2a2a2a" stroke-width="0.9" stroke-linecap="butt"/>
<line x1="422.72" y1="410.15" x2="426.36" y2="408.05" stroke="#2a2a2a" stroke-width="0.9" stroke-linecap="butt"/>
<line x1="422.72" y1="408.05" x2="426.36" y2="410.15" stroke="#2a2a2a" stroke-width="0.9" stroke-linecap="butt"/>
<circle cx="424.54" cy="409.10" r="0.63" fill="#2a2a2a"/>
<line x1="430.31" y1="411.20" x2="430.31" y2="407.00" stroke="#2a2a2a" stroke-width="0.9" stroke-linecap="butt"/>
<line x1="428.49" y1="410.15" x2="432.13" y2="408.05" stroke="#2a2a2a" stroke-width="0.9" stroke-linecap="butt"/>
<line x1="428.49" y1="408.05" x2="432.13" y2="410.15" stroke="#2a2a2a" stroke-width="0.9" stroke-linecap="butt"/>
<circle cx="430.31" cy="409.10" r="0.63" fill="#2a2a2a"/>
<line x1="437.10" y1="401.40" x2="437.10" y2="416.40" stroke="#1a1a1a" stroke-width="1.5" stroke-linecap="butt"/>
<circle cx="443.80" cy="402.00" r="2.7" fill="#000"/>
<circle cx="443.80" cy="414.80" r="2.3" fill="#a6a6a6" stroke="#222" stroke-width="0.9"/>
<text x="449.50" y="404.80" font-size="10.00" text-anchor="start" textLength="58.50" lengthAdjust="spacingAndGlyphs" fill="#1a1a1a">DLE-HuM195</text>
<text x="449.50" y="417.40" font-size="10.00" text-anchor="start" textLength="52.30" lengthAdjust="spacingAndGlyphs" fill="#1a1a1a">wt-HuM195</text>
<text x="91.91" y="503.50" font-size="11.80" font-weight="bold" text-anchor="start" textLength="3.48" lengthAdjust="spacingAndGlyphs" fill="#1a1a1a">I</text>
<text x="162.00" y="504.30" font-size="10.00" text-anchor="start" textLength="113.00" lengthAdjust="spacingAndGlyphs" fill="#1a1a1a">Single-cell ADCC assay</text>
<line x1="130.30" y1="531.70" x2="130.30" y2="633.30" stroke="#1a1a1a" stroke-width="1.25" stroke-linecap="butt"/>
<line x1="127.30" y1="632.90" x2="130.30" y2="632.90" stroke="#1a1a1a" stroke-width="1.25" stroke-linecap="butt"/>
<text x="127.30" y="635.42" font-size="9.00" text-anchor="end" textLength="5.72" lengthAdjust="spacingAndGlyphs" fill="#1a1a1a">0</text>
<line x1="127.30" y1="607.60" x2="130.30" y2="607.60" stroke="#1a1a1a" stroke-width="1.25" stroke-linecap="butt"/>
<text x="127.30" y="610.12" font-size="9.00" text-anchor="end" textLength="11.45" lengthAdjust="spacingAndGlyphs" fill="#1a1a1a">10</text>
<line x1="127.30" y1="582.30" x2="130.30" y2="582.30" stroke="#1a1a1a" stroke-width="1.25" stroke-linecap="butt"/>
<text x="127.30" y="584.82" font-size="9.00" text-anchor="end" textLength="11.45" lengthAdjust="spacingAndGlyphs" fill="#1a1a1a">20</text>
<line x1="127.30" y1="557.00" x2="130.30" y2="557.00" stroke="#1a1a1a" stroke-width="1.25" stroke-linecap="butt"/>
<text x="127.30" y="559.52" font-size="9.00" text-anchor="end" textLength="11.45" lengthAdjust="spacingAndGlyphs" fill="#1a1a1a">30</text>
<line x1="127.30" y1="531.70" x2="130.30" y2="531.70" stroke="#1a1a1a" stroke-width="1.25" stroke-linecap="butt"/>
<text x="127.30" y="534.22" font-size="9.00" text-anchor="end" textLength="11.45" lengthAdjust="spacingAndGlyphs" fill="#1a1a1a">40</text>
<line x1="130.30" y1="633.10" x2="333.50" y2="633.10" stroke="#1a1a1a" stroke-width="1.25" stroke-linecap="butt"/>
<line x1="164.30" y1="633.10" x2="164.30" y2="635.30" stroke="#1a1a1a" stroke-width="1.25" stroke-linecap="butt"/>
<line x1="231.80" y1="633.10" x2="231.80" y2="635.30" stroke="#1a1a1a" stroke-width="1.25" stroke-linecap="butt"/>
<line x1="299.20" y1="633.10" x2="299.20" y2="635.30" stroke="#1a1a1a" stroke-width="1.25" stroke-linecap="butt"/>
<text transform="translate(100.60,582.20) rotate(-90)" x="0" y="0" font-size="10.00" text-anchor="middle" textLength="97.00" lengthAdjust="spacingAndGlyphs" fill="#1a1a1a">Frequency of cytolytic</text>
<text transform="translate(110.80,581.50) rotate(-90)" x="0" y="0" font-size="10.00" text-anchor="middle" textLength="55.50" lengthAdjust="spacingAndGlyphs" fill="#1a1a1a">NK cells (%)</text>
<text x="138.95" y="647.10" font-size="9.00" text-anchor="start" textLength="24.00" lengthAdjust="spacingAndGlyphs" fill="#1a1a1a">CD33</text>
<text x="162.95" y="643.90" font-size="5.40" text-anchor="start" textLength="3.29" lengthAdjust="spacingAndGlyphs" fill="#1a1a1a">+</text>
<text x="166.24" y="647.10" font-size="9.00" text-anchor="start" textLength="16.71" lengthAdjust="spacingAndGlyphs" fill="#1a1a1a">EL4</text>
<text x="133.55" y="656.80" font-size="9.00" text-anchor="start" textLength="58.30" lengthAdjust="spacingAndGlyphs" fill="#1a1a1a">DLE-HuM195</text>
<text x="209.55" y="647.10" font-size="9.00" text-anchor="start" textLength="24.44" lengthAdjust="spacingAndGlyphs" fill="#1a1a1a">CD33</text>
<text x="233.99" y="643.90" font-size="5.40" text-anchor="start" textLength="3.35" lengthAdjust="spacingAndGlyphs" fill="#1a1a1a">+</text>
<text x="237.34" y="647.10" font-size="9.00" text-anchor="start" textLength="17.01" lengthAdjust="spacingAndGlyphs" fill="#1a1a1a">EL4</text>
<text x="207.65" y="656.80" font-size="9.00" text-anchor="start" textLength="49.30" lengthAdjust="spacingAndGlyphs" fill="#1a1a1a">wt-HuM195</text>
<text x="278.75" y="647.50" font-size="9.00" text-anchor="start" textLength="24.00" lengthAdjust="spacingAndGlyphs" fill="#1a1a1a">CD33</text>
<text x="302.75" y="644.30" font-size="5.40" text-anchor="start" textLength="3.29" lengthAdjust="spacingAndGlyphs" fill="#1a1a1a">+</text>
<text x="306.04" y="647.50" font-size="9.00" text-anchor="start" textLength="16.71" lengthAdjust="spacingAndGlyphs" fill="#1a1a1a">EL4</text>
<line x1="163.50" y1="522.20" x2="298.40" y2="522.20" stroke="#444" stroke-width="0.8" stroke-linecap="butt"/>
<line x1="163.50" y1="519.90" x2="163.50" y2="524.50" stroke="#444" stroke-width="0.8" stroke-linecap="butt"/>
<line x1="298.40" y1="519.90" x2="298.40" y2="524.50" stroke="#444" stroke-width="0.8" stroke-linecap="butt"/>
<line x1="219.00" y1="520.00" x2="219.00" y2="515.60" stroke="#111" stroke-width="1.15" stroke-linecap="butt"/>
<line x1="217.09" y1="518.90" x2="220.91" y2="516.70" stroke="#111" stroke-width="1.15" stroke-linecap="butt"/>
<line x1="217.09" y1="516.70" x2="220.91" y2="518.90" stroke="#111" stroke-width="1.15" stroke-linecap="butt"/>
<circle cx="219.00" cy="517.80" r="0.99" fill="#111"/>
<line x1="226.40" y1="520.00" x2="226.40" y2="515.60" stroke="#111" stroke-width="1.15" stroke-linecap="butt"/>
<line x1="224.49" y1="518.90" x2="228.31" y2="516.70" stroke="#111" stroke-width="1.15" stroke-linecap="butt"/>
<line x1="224.49" y1="516.70" x2="228.31" y2="518.90" stroke="#111" stroke-width="1.15" stroke-linecap="butt"/>
<circle cx="226.40" cy="517.80" r="0.99" fill="#111"/>
<line x1="233.80" y1="520.00" x2="233.80" y2="515.60" stroke="#111" stroke-width="1.15" stroke-linecap="butt"/>
<line x1="231.89" y1="518.90" x2="235.71" y2="516.70" stroke="#111" stroke-width="1.15" stroke-linecap="butt"/>
<line x1="231.89" y1="516.70" x2="235.71" y2="518.90" stroke="#111" stroke-width="1.15" stroke-linecap="butt"/>
<circle cx="233.80" cy="517.80" r="0.99" fill="#111"/>
<line x1="241.20" y1="520.00" x2="241.20" y2="515.60" stroke="#111" stroke-width="1.15" stroke-linecap="butt"/>
<line x1="239.29" y1="518.90" x2="243.11" y2="516.70" stroke="#111" stroke-width="1.15" stroke-linecap="butt"/>
<line x1="239.29" y1="516.70" x2="243.11" y2="518.90" stroke="#111" stroke-width="1.15" stroke-linecap="butt"/>
<circle cx="241.20" cy="517.80" r="0.99" fill="#111"/>
<line x1="163.50" y1="532.20" x2="229.60" y2="532.20" stroke="#444" stroke-width="0.8" stroke-linecap="butt"/>
<line x1="163.50" y1="529.90" x2="163.50" y2="534.50" stroke="#444" stroke-width="0.8" stroke-linecap="butt"/>
<line x1="229.60" y1="529.90" x2="229.60" y2="534.50" stroke="#444" stroke-width="0.8" stroke-linecap="butt"/>
<line x1="188.10" y1="530.40" x2="188.10" y2="526.00" stroke="#111" stroke-width="1.15" stroke-linecap="butt"/>
<line x1="186.19" y1="529.30" x2="190.01" y2="527.10" stroke="#111" stroke-width="1.15" stroke-linecap="butt"/>
<line x1="186.19" y1="527.10" x2="190.01" y2="529.30" stroke="#111" stroke-width="1.15" stroke-linecap="butt"/>
<circle cx="188.10" cy="528.20" r="0.99" fill="#111"/>
<line x1="195.60" y1="530.40" x2="195.60" y2="526.00" stroke="#111" stroke-width="1.15" stroke-linecap="butt"/>
<line x1="193.69" y1="529.30" x2="197.51" y2="527.10" stroke="#111" stroke-width="1.15" stroke-linecap="butt"/>
<line x1="193.69" y1="527.10" x2="197.51" y2="529.30" stroke="#111" stroke-width="1.15" stroke-linecap="butt"/>
<circle cx="195.60" cy="528.20" r="0.99" fill="#111"/>
<line x1="203.10" y1="530.40" x2="203.10" y2="526.00" stroke="#111" stroke-width="1.15" stroke-linecap="butt"/>
<line x1="201.19" y1="529.30" x2="205.01" y2="527.10" stroke="#111" stroke-width="1.15" stroke-linecap="butt"/>
<line x1="201.19" y1="527.10" x2="205.01" y2="529.30" stroke="#111" stroke-width="1.15" stroke-linecap="butt"/>
<circle cx="203.10" cy="528.20" r="0.99" fill="#111"/>
<line x1="210.60" y1="530.40" x2="210.60" y2="526.00" stroke="#111" stroke-width="1.15" stroke-linecap="butt"/>
<line x1="208.69" y1="529.30" x2="212.51" y2="527.10" stroke="#111" stroke-width="1.15" stroke-linecap="butt"/>
<line x1="208.69" y1="527.10" x2="212.51" y2="529.30" stroke="#111" stroke-width="1.15" stroke-linecap="butt"/>
<circle cx="210.60" cy="528.20" r="0.99" fill="#111"/>
<line x1="232.80" y1="571.90" x2="299.20" y2="571.90" stroke="#444" stroke-width="0.8" stroke-linecap="butt"/>
<line x1="232.80" y1="569.60" x2="232.80" y2="574.20" stroke="#444" stroke-width="0.8" stroke-linecap="butt"/>
<line x1="299.20" y1="569.60" x2="299.20" y2="574.20" stroke="#444" stroke-width="0.8" stroke-linecap="butt"/>
<line x1="254.30" y1="569.30" x2="254.30" y2="564.90" stroke="#111" stroke-width="1.15" stroke-linecap="butt"/>
<line x1="252.39" y1="568.20" x2="256.21" y2="566.00" stroke="#111" stroke-width="1.15" stroke-linecap="butt"/>
<line x1="252.39" y1="566.00" x2="256.21" y2="568.20" stroke="#111" stroke-width="1.15" stroke-linecap="butt"/>
<circle cx="254.30" cy="567.10" r="0.99" fill="#111"/>
<line x1="262.10" y1="569.30" x2="262.10" y2="564.90" stroke="#111" stroke-width="1.15" stroke-linecap="butt"/>
<line x1="260.19" y1="568.20" x2="264.01" y2="566.00" stroke="#111" stroke-width="1.15" stroke-linecap="butt"/>
<line x1="260.19" y1="566.00" x2="264.01" y2="568.20" stroke="#111" stroke-width="1.15" stroke-linecap="butt"/>
<circle cx="262.10" cy="567.10" r="0.99" fill="#111"/>
<line x1="269.90" y1="569.30" x2="269.90" y2="564.90" stroke="#111" stroke-width="1.15" stroke-linecap="butt"/>
<line x1="267.99" y1="568.20" x2="271.81" y2="566.00" stroke="#111" stroke-width="1.15" stroke-linecap="butt"/>
<line x1="267.99" y1="566.00" x2="271.81" y2="568.20" stroke="#111" stroke-width="1.15" stroke-linecap="butt"/>
<circle cx="269.90" cy="567.10" r="0.99" fill="#111"/>
<line x1="277.70" y1="569.30" x2="277.70" y2="564.90" stroke="#111" stroke-width="1.15" stroke-linecap="butt"/>
<line x1="275.79" y1="568.20" x2="279.61" y2="566.00" stroke="#111" stroke-width="1.15" stroke-linecap="butt"/>
<line x1="275.79" y1="566.00" x2="279.61" y2="568.20" stroke="#111" stroke-width="1.15" stroke-linecap="butt"/>
<circle cx="277.70" cy="567.10" r="0.99" fill="#111"/>
<line x1="164.20" y1="548.90" x2="164.20" y2="590.40" stroke="#1a1a1a" stroke-width="1.4" stroke-linecap="butt"/>
<line x1="153.10" y1="548.90" x2="175.60" y2="548.90" stroke="#1a1a1a" stroke-width="1.4" stroke-linecap="butt"/>
<line x1="153.10" y1="590.40" x2="175.60" y2="590.40" stroke="#1a1a1a" stroke-width="1.4" stroke-linecap="butt"/>
<line x1="142.00" y1="569.70" x2="186.70" y2="569.70" stroke="#1a1a1a" stroke-width="1.4" stroke-linecap="butt"/>
<polygon points="164.20,538.00 167.30,541.10 164.20,544.20 161.10,541.10" fill="#000"/>
<polygon points="165.90,559.20 171.30,559.20 168.60,565.00" fill="#000"/>
<circle cx="159.60" cy="568.00" r="2.7" fill="#fff" stroke="#000" stroke-width="1.3"/>
<polygon points="164.20,579.60 164.92,581.51 166.96,581.60 165.36,582.88 165.90,584.85 164.20,583.72 162.50,584.85 163.04,582.88 161.44,581.60 163.48,581.51" fill="#000"/>
<rect x="161.40" y="593.00" width="5.60" height="5.60" fill="#000"/>
<line x1="231.80" y1="595.40" x2="231.80" y2="623.50" stroke="#1a1a1a" stroke-width="1.4" stroke-linecap="butt"/>
<line x1="220.80" y1="595.40" x2="242.70" y2="595.40" stroke="#1a1a1a" stroke-width="1.4" stroke-linecap="butt"/>
<line x1="220.80" y1="623.50" x2="242.70" y2="623.50" stroke="#1a1a1a" stroke-width="1.4" stroke-linecap="butt"/>
<line x1="209.30" y1="609.70" x2="254.60" y2="609.70" stroke="#1a1a1a" stroke-width="1.4" stroke-linecap="butt"/>
<polygon points="231.80,585.10 234.90,588.20 231.80,591.30 228.70,588.20" fill="#000"/>
<circle cx="231.80" cy="603.20" r="2.7" fill="#fff" stroke="#000" stroke-width="1.3"/>
<rect x="219.90" y="613.40" width="5.60" height="5.60" fill="#000"/>
<polygon points="237.70,613.40 243.10,613.40 240.40,619.20" fill="#000"/>
<line x1="299.20" y1="624.70" x2="299.20" y2="631.00" stroke="#1a1a1a" stroke-width="1.4" stroke-linecap="butt"/>
<line x1="288.50" y1="624.70" x2="310.50" y2="624.70" stroke="#1a1a1a" stroke-width="1.4" stroke-linecap="butt"/>
<line x1="288.50" y1="631.00" x2="310.50" y2="631.00" stroke="#1a1a1a" stroke-width="1.4" stroke-linecap="butt"/>
<line x1="277.00" y1="628.80" x2="321.80" y2="628.80" stroke="#1a1a1a" stroke-width="1.4" stroke-linecap="butt"/>
<rect x="278.80" y="621.30" width="5.40" height="5.40" fill="#000"/>
<circle cx="290.30" cy="629.90" r="2.7" fill="#fff" stroke="#000" stroke-width="1.3"/>
<polygon points="299.20,631.40 301.80,634.00 299.20,636.60 296.60,634.00" fill="#000"/>
<polygon points="305.30,629.80 310.50,629.80 307.90,635.00" fill="#000"/>
<polygon points="316.60,622.10 317.32,624.01 319.36,624.10 317.76,625.38 318.30,627.35 316.60,626.22 314.90,627.35 315.44,625.38 313.84,624.10 315.88,624.01" fill="#000"/>
<text x="335.25" y="524.60" font-size="11.00" text-anchor="start" textLength="106.80" lengthAdjust="spacingAndGlyphs" fill="#1a1a1a">CD16-158 allotype</text>
<polygon points="353.40,537.50 356.40,540.50 353.40,543.50 350.40,540.50" fill="#000"/>
<text x="362.10" y="543.50" font-size="10.00" text-anchor="start" textLength="37.20" lengthAdjust="spacingAndGlyphs" fill="#1a1a1a">325713</text>
<text x="407.50" y="543.50" font-size="10.00" text-anchor="start" textLength="13.44" lengthAdjust="spacingAndGlyphs" fill="#1a1a1a">FF</text>
<polygon points="350.65,552.40 355.95,552.40 353.30,558.50" fill="#000"/>
<text x="362.10" y="559.20" font-size="10.00" text-anchor="start" textLength="37.20" lengthAdjust="spacingAndGlyphs" fill="#1a1a1a">279398</text>
<text x="407.50" y="559.20" font-size="10.00" text-anchor="start" textLength="14.06" lengthAdjust="spacingAndGlyphs" fill="#1a1a1a">VF</text>
<circle cx="353.30" cy="570.30" r="2.7" fill="#fff" stroke="#000" stroke-width="1.5"/>
<text x="362.10" y="574.20" font-size="10.00" text-anchor="start" textLength="37.20" lengthAdjust="spacingAndGlyphs" fill="#1a1a1a">256818</text>
<text x="407.50" y="574.20" font-size="10.00" text-anchor="start" textLength="14.06" lengthAdjust="spacingAndGlyphs" fill="#1a1a1a">VF</text>
<polygon points="353.30,582.90 354.02,584.81 356.06,584.90 354.46,586.18 355.00,588.15 353.30,587.02 351.60,588.15 352.14,586.18 350.54,584.90 352.58,584.81" fill="#000"/>
<text x="362.10" y="588.60" font-size="10.00" text-anchor="start" textLength="37.20" lengthAdjust="spacingAndGlyphs" fill="#1a1a1a">325699</text>
<text x="407.50" y="588.60" font-size="10.00" text-anchor="start" textLength="14.67" lengthAdjust="spacingAndGlyphs" fill="#1a1a1a">VV</text>
<rect x="350.60" y="597.40" width="5.60" height="5.60" fill="#000"/>
<text x="362.00" y="603.50" font-size="10.00" text-anchor="start" textLength="14.00" lengthAdjust="spacingAndGlyphs" fill="#1a1a1a">SS</text>
<text x="407.50" y="603.50" font-size="10.00" text-anchor="start" textLength="12.23" lengthAdjust="spacingAndGlyphs" fill="#1a1a1a">nd</text>
</svg>
</body></html>
